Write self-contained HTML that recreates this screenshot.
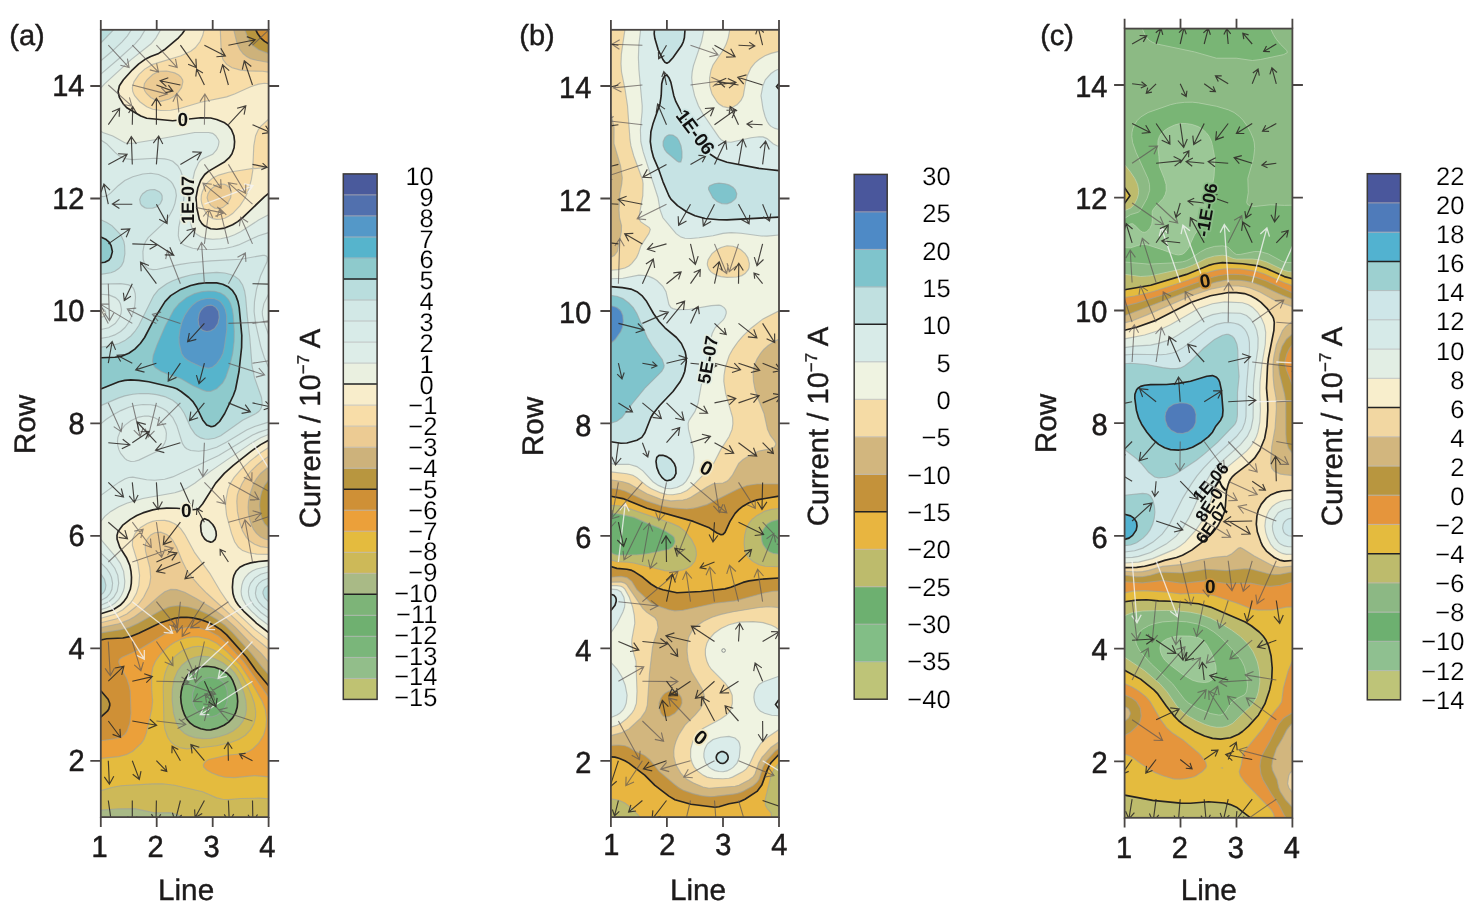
<!DOCTYPE html><html><head><meta charset="utf-8"><title>Current contour maps</title><style>
html,body{margin:0;padding:0;background:#fff}
svg{display:block;will-change:transform}
text{font-family:"Liberation Sans",sans-serif;fill:#1c1a1a;text-rendering:geometricPrecision}
.tk{font-size:30.5px;stroke:#1c1a1a;stroke-width:.55px}.ti{font-size:29.7px;stroke:#1c1a1a;stroke-width:.4px}.pl{font-size:29px;stroke:#1c1a1a;stroke-width:.45px}.cl{font-size:25.5px;fill:#000;stroke:#fff;stroke-width:.2px;paint-order:fill stroke}
.lb{font-weight:bold;fill:#111;paint-order:stroke fill;stroke-width:3.5px;stroke-linejoin:round}
</style></head><body>
<svg width="1484" height="917" viewBox="0 0 1484 917">
<rect width="1484" height="917" fill="#fff"/>
<g id="panel-a">
<clipPath id="cpa"><rect x="100.8" y="29.8" width="167.8" height="787.3"/></clipPath>
<g clip-path="url(#cpa)">
<rect x="99.8" y="28.8" width="169.8" height="789.3" fill="#BFC272"/>
<path d="M100.8,29.8 268.6,29.8 268.6,817.1 100.8,817.1Z" fill="#92BE8A" fill-rule="evenodd"/>
<path d="M100.8,29.8 268.6,29.8 268.6,817.1 100.8,817.1Z" fill="#7AB67A" fill-rule="evenodd"/>
<path d="M100.8,29.8 268.6,29.8 268.6,817.1 100.8,817.1Z" fill="#6FB070" fill-rule="evenodd"/>
<path d="M100.8,29.8 268.6,29.8 268.6,817.1 100.8,817.1ZM204.7,678.5 198.7,682.1 194.7,687.2 192.7,693.2 192.3,697.2 192.6,701.2 193.7,705.2 195.7,709.2 200.7,714.4 206.7,716.8 212.7,716.6 216.7,715.2 219.8,713.2 222.7,710.5 224.9,707.2 226.6,703.2 227.4,699.2 227.1,691.2 226,687.2 223.8,683.2 222,681.2 218.9,679.2 212.7,677.6 208.7,677.6Z" fill="#7DB478" fill-rule="evenodd"/>
<path d="M100.8,29.8 268.6,29.8 268.6,817.1 100.8,817.1ZM200.7,666.9 196.7,668.2 191.7,671.2 187.7,675.2 185.1,679.2 182.7,685.2 181.3,691.2 180.7,697.2 181.2,703.2 182.5,709.2 184.7,715.2 186.9,719.2 190.3,723.2 194.7,726.3 200.7,728.8 206.7,730 210.7,729.9 216.7,728.4 224,725.2 228.6,722.1 232.6,717.9 235.4,713.2 237.2,707.2 237.7,701.2 237.2,695.2 235.3,687.2 232.6,680.3 230.6,676.8 227,673.2 220.7,669.5 214.7,667.3 206.7,666.3Z" fill="#A9BA86" fill-rule="evenodd"/>
<path d="M100.8,29.8 268.6,29.8 268.6,817.1 182.4,817.1 176.7,814.5 170.7,812.7 154.7,812.8 134.8,808.7 118.8,808.8 100.8,810.1ZM194.7,657.2 188.7,659.7 181.9,665.2 177.5,671.2 174.2,679.2 172.3,689.2 172.1,699.2 173.6,713.2 176.5,723.2 180.1,729.2 184.4,733.2 188.7,735.6 194.7,737.6 202.7,738.6 210.7,738.4 218.7,736.8 226.7,734.2 232.7,731.2 238.6,726.7 242.9,721.2 245.5,715.2 246.4,709.2 245.9,701.2 244,693.2 241.1,685.2 237.4,677.2 234.6,672.9 230.6,668.6 222.7,662.8 214.7,658.7 208.7,656.8 200.7,656.1Z" fill="#CDB958" fill-rule="evenodd"/>
<path d="M100.8,29.8 268.6,29.8 268.6,798.8 258.6,798.2 240.6,798.5 228.6,799.6 222.7,799.3 216.7,797.9 202.7,791.7 174.7,785.3 162.7,783.8 152.7,783.9 120.8,785.8 112.8,787.2 100.8,790.6ZM192.7,646.9 184.7,649.6 180.7,651.8 176.3,655.2 172.4,659.2 169.5,663.2 167.3,667.2 165.1,673.2 163.9,679.2 163.2,687.2 163.9,721.2 164.9,729.2 167.7,737.2 170.7,741.7 174.7,745.2 180.7,747.9 186.7,748.8 196.7,748.3 216.7,745.7 230.6,742.5 238.6,739.5 245.4,735.2 250.6,729.6 254,723.2 255.5,717.2 255.7,711.2 254.3,703.2 251.6,695.2 247.1,685.2 241.8,675.2 236.6,667.9 230.6,661.9 220.7,654.1 212.7,649.4 206.7,647.3 198.7,646.3Z" fill="#E4BB3E" fill-rule="evenodd"/>
<path d="M100.8,29.8 268.6,29.8 268.6,776.9 254.6,775.6 234.6,777.6 224.7,777.1 218.7,775.6 212,773.1 206.7,770.1 203.8,767.1 203.4,765.1 204.2,763.1 206,761.1 208.7,759.5 226.6,755.3 242.6,753.7 248.6,751.5 252.6,749 258.6,743.2 263.5,735.2 265.9,727.2 266.6,719.2 265.2,709.2 262.1,701.2 252,683.2 240.4,665.2 226.7,651.4 216.7,643.3 208.7,639.2 198.7,636.9 192.7,636.9 186.7,637.7 180.7,639.5 174.7,642.3 170.2,645.3 164.7,649.9 159.8,655.2 155.5,661.2 152.9,667.2 151.5,675.2 151.7,689.2 152.6,701.2 151.8,709.2 146.4,733.2 144.1,739.2 141.5,743.2 132.8,751.2 126.8,754.5 118.8,756.6 100.8,758.4Z" fill="#EBA03A" fill-rule="evenodd"/>
<path d="M100.8,29.8 268.6,29.8 268.6,697.2 243.2,661.2 226.7,643.4 218.7,636.3 208.7,630.8 198.7,627.9 188.7,627.3 178.7,628.8 171,631.3 164.7,634.1 140.8,648.5 132.8,652.6 122,657.2 119.5,659.2 118.7,661.2 118.9,663.2 126.8,678.6 129,685.2 130.2,691.2 131,713.2 129.8,723.2 127,731.2 124.8,734.4 122.8,736.1 118.8,737.8 114.8,738.8 100.8,740.8Z" fill="#CF9036" fill-rule="evenodd"/>
<path d="M100.8,29.8 255.8,29.8 257.7,33.8 260.6,37.8 264.6,41.4 268.6,43.8 268.6,685.8 256.5,671.2 246.6,657.3 226.7,634.9 220.7,629.6 214.7,625.8 206.7,621.7 200.7,619.6 192.7,617.9 186.7,617.3 180.7,617.4 174.7,618.3 160.7,622.8 138.8,633.3 130.8,636.4 122.8,638 106.8,638.8 100.8,640ZM100.8,691.2 100.8,690.8 108.1,699.2 109.7,703.2 109.8,705.2 108.8,709 107.4,711.2 100.8,717.1Z" fill="#B8963F" fill-rule="evenodd"/>
<path d="M100.8,29.8 244.8,29.8 248.6,39.6 253.1,45.8 258.6,49.8 268.6,53.6 268.6,480 264.5,485.4 261.8,491.4 260.3,497.4 259.6,505.4 260.4,513.4 262.2,519.4 264.6,523.8 268.6,527.7 268.6,674.6 262.1,667.2 251.1,653.2 232.6,632.7 224.9,625.3 216.7,619.3 206.7,613.6 198.7,610.1 188.7,607 178.7,605.7 172.7,606.2 168.7,607.1 160.7,610.4 138.2,623.3 128.8,627.6 120.8,629.8 100.8,632.9Z" fill="#CDB27B" fill-rule="evenodd"/>
<path d="M100.8,29.8 233.8,29.8 237.1,43.8 240,49.8 243.2,53.8 246.6,56.6 250.6,58.7 256.6,60.3 268.6,62.5 268.6,466.7 260.6,473.5 256.6,478.5 253.6,483.4 250.2,493.4 248.5,501.4 248.1,507.4 248.5,513.4 249.6,519.4 251.6,525.4 253.6,529.4 256.5,533.4 260.6,536.9 264.6,539 268.6,540 268.6,661.9 261,653.2 248.6,641.2 235.5,627.3 222.7,615.9 212.7,608.5 196.7,598.7 184.7,592.3 176.7,589.6 170.7,589.4 164.7,591.8 158.7,596.4 142,611.3 134.8,616.5 128.8,619.9 118.8,623.7 100.8,627.6Z" fill="#ECCB93" fill-rule="evenodd"/>
<path d="M100.8,29.8 220.3,29.8 221.3,53.8 223.1,59.8 226.6,64.4 232.1,67.8 240.6,70.1 248.6,70.9 262.6,71.3 268.6,72.1 268.6,456.4 262.6,460.5 256.6,465.5 250.7,471.4 245.9,477.4 242.1,483.4 238.5,491.4 237.3,495.4 236.8,501.4 237.4,511.4 239.3,521.4 242.6,531.1 246.3,537.3 250,541.3 254.6,544.3 260.6,546.6 268.6,547.7 268.6,649 252.6,636 236.6,620.4 206.8,593.3 199,585.3 192,577.3 186.3,569.3 182.3,561.3 176.7,547.3 172.7,540.2 170.3,537.3 166.7,534.5 160.7,532.2 154.7,532.7 150.7,535 147.1,539.3 145.6,543.3 145.2,547.3 145.6,551.3 149.8,567.3 150.7,577.3 149.8,583.3 148.6,587.3 143.6,597.3 139.1,603.3 135.3,607.3 126.8,613.9 116.8,618.7 100.8,622.8ZM158.7,71.3 152.7,74.5 147,79.8 144.4,83.8 143.8,87.7 144.7,90.7 146.7,93.7 150.7,97.5 156.7,100.8 160.7,101.4 168.7,99.3 172.7,97.2 177.2,93.7 181.5,87.7 182.9,81.8 182.5,79.8 180.7,76.8 178.7,75 174.7,72.9 166.7,71ZM216.7,185 212.7,187.6 210.6,189.7 208,193.7 207.1,197.7 208.2,201.6 210.7,205.4 214.7,208.1 218.7,208.7 222.7,207.6 227.5,203.6 230.7,197.7 231.3,191.7 229.7,187.7 226.7,185.2 224.7,184.4 220.7,184Z" fill="#F8DDA8" fill-rule="evenodd"/>
<path d="M100.8,29.8 204.1,29.8 202.6,35.8 199.9,41.8 196.7,46.2 192.7,49.9 186.7,53.5 181.1,55.8 156.7,62.9 150.7,65.3 146.6,67.8 141.6,71.8 135,79.8 133.1,83.8 132.3,87.7 132.8,91.7 134.6,95.7 137.7,99.7 142.3,103.7 146.7,106.7 152.7,109.2 158.7,110.3 164.7,110.6 176.7,109.2 200.7,102.3 226.7,96.9 256.6,84.7 262.6,83.4 268.6,83.7 268.6,119.2 260.6,126.3 258.2,129.7 255.6,135.7 253.8,145.7 252.8,167.7 254.6,168.6 268.6,167.2 268.6,447.6 260.6,452.7 249.7,461.4 241.1,469.4 234.1,477.4 230.3,483.4 227.9,489.4 226,499.4 225.5,505.4 226.6,515.4 231.5,533.4 234.6,541.8 238.4,547.3 242.6,550.6 248.6,552.8 256.6,554.1 268.6,554.4 268.6,640.1 254.6,629.4 235.5,611.3 230,605.3 220.4,591.3 209.8,573.3 194.7,552.7 184.7,534.3 180.7,528.6 177.3,525.4 174.2,523.4 169.3,521.4 164.7,520.4 156.7,520.5 152.5,521.4 147.1,523.4 140.6,527.4 135.1,533.4 132.6,539.3 132.4,545.3 137.9,563.3 139.6,575.3 138.8,585.3 136.4,593.3 133.1,599.3 130.1,603.3 122.8,609.8 114.8,614.2 100.8,618.2ZM244.6,169.7 228.6,172.3 218.7,175.1 212.7,177.9 206.7,183.3 204,187.7 202.3,191.7 201.3,195.7 201.1,199.6 201.8,203.6 204,209.6 206.3,213.6 208.7,216.3 212.7,218.6 216.7,219.4 220.7,219.2 224.7,218.2 228.6,216.3 232.6,213.6 240.1,205.6 245.2,197.7 248.6,189.7 251.3,179.7 252.9,169.7 252.6,168.4Z" fill="#F8EDCB" fill-rule="evenodd"/>
<path d="M100.8,29.8 184.9,29.8 182.2,33.8 178.5,37.8 164.3,49.8 158.7,53.4 150.7,56.6 144.7,59.6 138.8,63.8 134.8,67.4 125,77.8 120.6,83.8 118.6,87.7 118.2,93.7 119.5,97.7 121.8,101.7 124.7,105.7 126.8,107.7 140.8,116 144.7,117.7 150.7,119 170.7,120.7 178.7,120.3 200.7,117.7 210.7,118 216.7,119.5 224.7,122.8 228.4,125.7 231.5,129.7 233.9,135.7 234.6,141.7 234.1,147.7 232,153.7 229.2,157.7 224.8,161.7 208.7,171.1 205.5,173.7 201,179.7 198.5,185.7 196.3,195.7 196.1,203.6 198.7,217.6 200.4,221.6 202.7,224.5 204.7,226.1 208.7,228.2 214.7,229.3 222.7,228.6 230.6,225.9 234.8,223.6 240.6,219.4 264.6,196.6 268.6,193.4 268.6,440.2 260.6,444.6 251,451.4 233.3,465.4 224.3,473.4 215.5,483.4 202.7,503.8 198.7,508.5 196.7,509.3 192.7,509.7 176.7,508.3 166.7,508.1 158.7,508.8 152.7,509.9 142.8,512.9 136.8,515.5 130.3,519.4 122.5,525.4 118.1,531.4 117,535.4 117.1,539.3 119.8,547.3 126.8,558.3 129.8,565.3 131,571.3 131.5,577.3 131.3,583.3 130.3,589.3 126.9,597.3 124,601.3 120.1,605.3 112.8,610 100.8,613.8ZM202.8,519.4 204.7,518.7 208.7,520.5 212.7,524.5 214.7,527.7 216,531.4 216.3,535.4 215.2,539.3 212.7,541.7 210.7,542.1 206.7,540.7 204.7,539 202.3,535.4 201.1,531.4 200.6,525.4 201.5,521.4ZM260.4,561.3 268.6,560.6 268.6,632.5 256.6,623.3 240,607.3 236.9,603.3 234.8,599.3 232.6,591.3 232.6,583.3 233.4,577.3 234.9,573.3 237.6,569.3 240.6,566.8 246.6,564 252.6,562.5Z" fill="#EAF0E0" fill-rule="evenodd"/>
<path d="M100.8,29.8 158.7,29.8 160.6,29.8 156,37.8 151.1,43.8 130.8,59.9 104.6,83.8 100.8,88ZM100.8,131.7 100.8,131.3 102.8,132.5 112.8,136 124.8,142.7 128.8,143.4 134.8,143 154.7,139.7 194.7,132.5 208.7,132.5 212.7,133.4 215.7,135.7 218.4,139.7 219,141.7 218.4,145.7 216.7,149.7 212.7,154.3 202.7,158.8 200.7,160.2 198.7,162.5 194.7,171.3 192.4,181.7 190.2,201.6 190.3,221.6 191.8,227.6 194,231.6 196.7,234.3 200.7,236.8 206.7,238.6 212.7,239.2 220.7,238.8 228.6,237 234.6,234.7 240.6,231.7 258.6,220.1 268.6,214.8 268.6,434.5 260.6,437.8 251,443.4 210.3,471.4 194.7,483.3 186.7,488.3 180.7,490.9 174.7,492.8 142.8,498.5 126.8,503.3 118.8,506.8 110.8,511.4 104.8,516.3 100.8,521.5 100.8,316.9 102.8,316.9 104.8,315.8 105.8,313.5 105.6,311.5 104.8,310.2 102.8,308.9 100.8,308.7ZM100.8,541.3 100.8,539.4 116.1,557.3 120.3,563.3 123.6,571.3 124.8,581.3 124.3,587.3 123.2,591.3 121.4,595.3 118.7,599.3 114.8,603.2 111.8,605.3 106.8,607.7 100.8,609.6ZM262.6,567.3 268.6,566.3 268.6,625.2 258.6,617.7 248,607.3 243.7,601.3 242,597.3 241.2,593.3 241.2,589.3 242.3,583.3 244,579.3 246.6,575.5 252.6,570.8 256.6,569Z" fill="#DDEDE8" fill-rule="evenodd"/>
<path d="M100.8,29.8 102.8,29.8 145.2,29.8 140.3,37.8 135.1,43.8 118.8,58.7 100.8,74.1ZM100.8,141.7 100.8,140.1 103.9,141.7 108.7,145.7 116.8,154.1 120.8,156.9 124.8,158.6 132.8,159.6 154.7,158.3 164.7,158.9 168.7,159.7 172.7,161.3 177.8,165.7 180.7,170.7 182.7,176.8 184,183.7 184.5,191.7 183.1,205.6 178.7,227.6 178.3,235.6 179.2,239.6 180.3,241.6 182,243.6 184.9,245.6 192.7,248.3 200.7,249.4 212.7,249.5 224.7,248.5 232.6,246.8 238.6,244.9 258.6,235.7 268.6,232.6 268.6,293.9 263.9,303.6 262.3,311.5 262.5,315.5 263.9,321.5 268.6,334.9 268.6,429 258.6,432.4 252.6,435.1 218.7,455.6 172.7,476.9 164.7,479.3 154.7,480.2 146.7,479.7 132.8,477.2 128.8,477.5 124.8,478.9 118.8,482.4 100.8,495.4 100.8,329.5 108.8,327.7 115.2,323.5 119.5,317.5 121,313.5 121.5,309.6 120.4,303.6 118.8,300.7 115.4,297.6 108.8,294.9 100.8,294.3ZM138.8,417.1 130.8,420.7 124.7,425.4 120.2,431.4 117.9,437.4 117.5,441.4 117.8,445.4 118.8,449.4 120.7,453.4 124.8,458.4 126.8,460 130.8,461.5 134.8,461.3 138.8,460.1 156.7,451.6 159.8,449.4 162.7,446.3 164.5,443.4 166,439.4 166.4,433.4 165.6,429.4 162.7,423.9 158.7,419.9 154.7,417.7 148.7,416.1 144.7,416ZM100.8,553.3 100.8,552.8 108.8,560.3 114.3,567.3 117.8,575.3 118.7,583.3 117.2,591.3 113.7,597.3 108.8,601.7 100.8,605.2ZM263.2,573.3 268.6,572 268.6,618 260.6,612.2 253.8,605.3 250,599.3 248.5,593.3 249,587.3 251.7,581.3 256.6,576.5Z" fill="#D8EBE8" fill-rule="evenodd"/>
<path d="M100.8,29.8 131.3,29.8 127.4,35.8 122.1,41.8 111.5,51.8 100.8,60.7ZM145,173.7 150.7,173.3 156.7,174 162,175.7 166.7,178.2 170.7,181.4 172.7,183.9 174.8,187.7 176.4,193.7 176.2,197.7 174.7,204.2 172.7,209.6 168.7,217 162.7,224.3 148.7,237 144.7,243.6 143.1,249.6 142.9,257.6 144.3,263.6 146.9,267.6 150.7,269.4 156.7,269.5 178.7,264.6 192.7,262.5 210.7,260.9 240.6,259.2 262.6,255.4 265.3,255.6 266.6,256.3 267.4,257.6 267.1,261.6 260.6,275.8 257.4,285.6 255,297.6 254.1,309.6 255.2,321.5 260,343.5 263.5,355.5 268.6,367.4 268.6,422.1 248.6,428.9 242.6,432 222.7,444.4 214.7,447.9 206.7,450.2 198.7,451.2 192.7,450.9 188.7,449.8 185.1,447.4 182.4,443.4 176.7,425.4 172.7,417.5 168.7,412.7 164.7,409.5 160.7,407.4 154.7,405.4 148.7,404.5 142.8,404.5 135.6,405.5 128.8,407.3 120.8,410.6 112.8,414.9 106,419.5 100.8,423.9 100.8,338.4 108.8,337 114.8,334.9 120.6,331.5 125,327.5 129.3,321.5 132.8,313.5 134.8,305.6 135.5,297.6 135.2,293.6 134,289.6 132.8,287.5 128.8,284.9 120.8,283.7 100.8,284.1 100.8,195.9 102.8,196.7 107.3,195.7 120.6,183.7 128.8,178.4 136.8,175.4ZM100.8,563.3 100.8,562.9 104.8,566.7 108.8,571.7 111.5,577.3 112.6,583.3 111.9,589.3 110.2,593.3 106.7,597.3 100.8,600.5ZM264.6,579.3 268.6,578 268.6,610.6 262.6,606.2 258.6,601.8 256.2,597.3 255.4,593.3 255.7,589.3 257.4,585.3 260.6,581.8Z" fill="#D2E8E6" fill-rule="evenodd"/>
<path d="M100.8,29.8 113.5,29.8 100.8,43 100.8,41.8ZM150,189.7 154.7,189.6 159.2,191.7 161.1,193.7 162.1,195.7 162.2,199.6 160.4,203.6 156.7,206.7 152.7,208.1 146.7,208.2 144.7,207.6 141.7,205.6 140.4,203.6 139.7,199.6 140.8,196.4 142.7,193.7 146.7,190.8ZM100.8,221.6 100.8,219.8 106.8,222.4 110.8,224.8 114.8,228.3 120.8,234.9 123.9,241.6 124.6,245.6 124.9,253.6 123.6,261.6 121.6,265.6 118.8,268.6 114.8,271.2 110.8,272.8 100.8,274.4ZM198.7,273.6 216.7,272.4 222.7,272.8 228.6,273.9 232.6,275.2 236.8,277.6 240.6,281.4 242.6,284.9 244.6,291 245.7,297.6 252.4,367.5 254.6,377.9 260.9,395.5 262.1,401.5 261.9,405.5 260.6,409.1 258.7,411.5 256.6,413 242.6,420.3 221.1,435.4 214.7,438.2 208.7,439.2 204.7,439 200.7,437.9 196.7,435.5 194.7,433.6 190.7,427.6 184.3,413.5 180.5,407.5 176.8,403.5 172.7,400.3 164.7,396.6 156.7,394.6 148.7,393.6 140.8,393.5 132.8,394.2 124.8,395.9 118.8,397.9 100.8,405.6 100.8,347.1 110.8,345.8 118.8,343.5 124.8,340.6 131.3,335.5 134.8,331.5 138.8,325.5 152.7,297.1 156.7,291.6 160.9,287.6 166.9,283.6 176.7,279.1 186.7,276ZM100.8,575.3 100.8,573.9 104.5,579.3 105.9,585.3 105.3,589.3 104.4,591.3 102.9,593.3 100.8,594.8ZM268.5,585.3 268.6,585.3 268.6,601.9 264.6,598 262.9,593.3 263,591.3 264.6,588Z" fill="#B9DDDD" fill-rule="evenodd"/>
<path d="M100.8,237.6 100.8,237 104.8,238.8 108.8,241.8 111.1,245.6 112.4,251.6 110.8,257.6 108.8,260.2 104.8,262.2 100.8,262.8ZM198.8,283.6 206.7,282.8 216.7,282.9 222.7,284.2 228.6,287.1 232.6,290.7 235.8,295.6 238,301.6 239.5,309.6 241.5,329.5 241.9,341.5 238.7,373.5 235.9,387.5 234.1,393.5 225.9,411.5 221,419.5 217.9,423.5 215.3,425.4 212.7,426.5 208.7,426.1 206.7,424.9 202.7,419.9 196.8,407.5 192.7,401.3 188.8,397.5 181.1,391.5 176.7,388.8 172.7,387.4 148.7,381.8 138.8,380.4 130.8,379.9 124.8,380.4 118.8,381.8 100.8,389 100.8,357.7 114.8,357.3 120.8,356.4 126.8,354.2 132.8,350.7 138.8,345.3 143.3,339.5 148,331.5 155,317.5 163.6,303.6 168.4,297.6 173.5,293.6 180.7,289.4 190.7,285.5Z" fill="#8ECACC" fill-rule="evenodd"/>
<path d="M202.1,291.6 208.7,291 214.7,291.3 220.7,293 224.7,295.4 228.5,299.6 230.6,303.6 232.4,309.6 233.3,315.5 234.3,331.5 234.1,341.5 232.7,353.5 229.8,365.5 225.7,377.5 222.7,382.9 216.7,388.7 210.7,391.3 206.7,391.3 202.7,390.1 192.7,385.4 180.7,378.5 168.7,374.6 161.2,371.5 155.1,367.5 153.6,365.5 152.5,361.5 153.2,355.5 156.8,345.5 165.4,325.5 174,309.6 179,303.6 186.6,297.6 194.6,293.6Z" fill="#56B4CC" fill-rule="evenodd"/>
<path d="M201.5,299.6 206.7,298.5 210.7,298.3 214.7,298.8 218.7,300.5 220.7,302 223.4,305.6 225.3,309.6 226.6,315.5 226.8,329.5 224.3,347.5 222.9,353.5 220.7,358.1 216.7,363.6 212.7,367 208.7,368.2 202.7,367.4 190.7,362 186.6,359.5 184.3,357.5 181.6,353.5 179.2,343.5 179,337.5 180,329.5 182.1,321.5 184.7,315.5 188.5,309.6 192,305.6 196.7,301.8Z" fill="#5498C8" fill-rule="evenodd"/>
<path d="M207.2,305.6 210.7,305.1 212.7,305.5 216,307.6 218.6,311.5 219.2,317.5 217.9,323.5 214.7,328.4 210.7,330.8 206.7,331.5 202.7,330.4 200.7,328.6 198.7,324.7 198.2,319.5 199.3,313.5 200.7,310.7 203.4,307.6Z" fill="#5170AE" fill-rule="evenodd"/>
<path d="M204.7,678.5 198.7,682.1 194.7,687.2 192.7,693.2 192.3,697.2 192.6,701.2 193.7,705.2 195.7,709.2 200.7,714.4 206.7,716.8 212.7,716.6 216.7,715.2 219.8,713.2 222.7,710.5 224.9,707.2 226.6,703.2 227.4,699.2 227.1,691.2 226,687.2 223.8,683.2 222,681.2 218.9,679.2 212.7,677.6 208.7,677.6ZM194.7,657.2 188.7,659.7 181.9,665.2 177.5,671.2 174.2,679.2 172.3,689.2 172.1,699.2 173.6,713.2 176.5,723.2 180.1,729.2 184.4,733.2 188.7,735.6 194.7,737.6 202.7,738.6 210.7,738.4 218.7,736.8 226.7,734.2 232.7,731.2 238.6,726.7 242.9,721.2 245.5,715.2 246.4,709.2 245.9,701.2 244,693.2 241.1,685.2 237.4,677.2 234.6,672.9 230.6,668.6 222.7,662.8 214.7,658.7 208.7,656.8 200.7,656.1ZM182.4,817.1 176.7,814.5 170.7,812.7 154.7,812.8 134.8,808.7 118.8,808.8 100.8,810.1M192.7,646.9 184.7,649.6 180.7,651.8 176.3,655.2 172.4,659.2 169.5,663.2 167.3,667.2 165.1,673.2 163.9,679.2 163.2,687.2 163.9,721.2 164.9,729.2 167.7,737.2 170.7,741.7 174.7,745.2 180.7,747.9 186.7,748.8 196.7,748.3 216.7,745.7 230.6,742.5 238.6,739.5 245.4,735.2 250.6,729.6 254,723.2 255.5,717.2 255.7,711.2 254.3,703.2 251.6,695.2 247.1,685.2 241.8,675.2 236.6,667.9 230.6,661.9 220.7,654.1 212.7,649.4 206.7,647.3 198.7,646.3ZM268.6,798.8 258.6,798.2 240.6,798.5 228.6,799.6 222.7,799.3 216.7,797.9 202.7,791.7 174.7,785.3 162.7,783.8 152.7,783.9 120.8,785.8 112.8,787.2 100.8,790.6M268.6,776.9 254.6,775.6 234.6,777.6 224.7,777.1 218.7,775.6 212,773.1 206.7,770.1 203.8,767.1 203.4,765.1 204.2,763.1 206,761.1 208.7,759.5 226.6,755.3 242.6,753.7 248.6,751.5 252.6,749 258.6,743.2 263.5,735.2 265.9,727.2 266.6,719.2 265.2,709.2 262.1,701.2 252,683.2 240.4,665.2 226.7,651.4 216.7,643.3 208.7,639.2 198.7,636.9 192.7,636.9 186.7,637.7 180.7,639.5 174.7,642.3 170.2,645.3 164.7,649.9 159.8,655.2 155.5,661.2 152.9,667.2 151.5,675.2 151.7,689.2 152.6,701.2 151.8,709.2 146.4,733.2 144.1,739.2 141.5,743.2 132.8,751.2 126.8,754.5 118.8,756.6 100.8,758.4M268.6,697.2 243.2,661.2 226.7,643.4 218.7,636.3 208.7,630.8 198.7,627.9 188.7,627.3 178.7,628.8 171,631.3 164.7,634.1 140.8,648.5 132.8,652.6 122,657.2 119.5,659.2 118.7,661.2 118.9,663.2 126.8,678.6 129,685.2 130.2,691.2 131,713.2 129.8,723.2 127,731.2 124.8,734.4 122.8,736.1 118.8,737.8 114.8,738.8 100.8,740.8M244.8,29.8 248.6,39.6 253.1,45.8 258.6,49.8 268.6,53.6M268.6,480 264.5,485.4 261.8,491.4 260.3,497.4 259.6,505.4 260.4,513.4 262.2,519.4 264.6,523.8 268.6,527.7M268.6,674.6 262.1,667.2 251.1,653.2 232.6,632.7 224.9,625.3 216.7,619.3 206.7,613.6 198.7,610.1 188.7,607 178.7,605.7 172.7,606.2 168.7,607.1 160.7,610.4 138.2,623.3 128.8,627.6 120.8,629.8 100.8,632.9M233.8,29.8 237.1,43.8 240,49.8 243.2,53.8 246.6,56.6 250.6,58.7 256.6,60.3 268.6,62.5M268.6,466.7 260.6,473.5 256.6,478.5 253.6,483.4 250.2,493.4 248.5,501.4 248.1,507.4 248.5,513.4 249.6,519.4 251.6,525.4 253.6,529.4 256.5,533.4 260.6,536.9 264.6,539 268.6,540M268.6,661.9 261,653.2 248.6,641.2 235.5,627.3 222.7,615.9 212.7,608.5 196.7,598.7 184.7,592.3 176.7,589.6 170.7,589.4 164.7,591.8 158.7,596.4 142,611.3 134.8,616.5 128.8,619.9 118.8,623.7 100.8,627.6M220.3,29.8 221.3,53.8 223.1,59.8 226.6,64.4 232.1,67.8 240.6,70.1 248.6,70.9 262.6,71.3 268.6,72.1M158.7,71.3 152.7,74.5 147,79.8 144.4,83.8 143.8,87.7 144.7,90.7 146.7,93.7 150.7,97.5 156.7,100.8 160.7,101.4 168.7,99.3 172.7,97.2 177.2,93.7 181.5,87.7 182.9,81.8 182.5,79.8 180.7,76.8 178.7,75 174.7,72.9 166.7,71ZM216.7,185 212.7,187.6 210.6,189.7 208,193.7 207.1,197.7 208.2,201.6 210.7,205.4 214.7,208.1 218.7,208.7 222.7,207.6 227.5,203.6 230.7,197.7 231.3,191.7 229.7,187.7 226.7,185.2 224.7,184.4 220.7,184ZM268.6,456.4 262.6,460.5 256.6,465.5 250.7,471.4 245.9,477.4 242.1,483.4 238.5,491.4 237.3,495.4 236.8,501.4 237.4,511.4 239.3,521.4 242.6,531.1 246.3,537.3 250,541.3 254.6,544.3 260.6,546.6 268.6,547.7M268.6,649 252.6,636 236.6,620.4 206.8,593.3 199,585.3 192,577.3 186.3,569.3 182.3,561.3 176.7,547.3 172.7,540.2 170.3,537.3 166.7,534.5 160.7,532.2 154.7,532.7 150.7,535 147.1,539.3 145.6,543.3 145.2,547.3 145.6,551.3 149.8,567.3 150.7,577.3 149.8,583.3 148.6,587.3 143.6,597.3 139.1,603.3 135.3,607.3 126.8,613.9 116.8,618.7 100.8,622.8M204.1,29.8 202.6,35.8 199.9,41.8 195.2,47.8 190.7,51.3 181.1,55.8 152.7,64.4 144.7,69.1 138.8,74.7 133.9,81.8 132.3,87.7 132.8,91.7 134.6,95.7 139.8,101.7 146.7,106.7 152.7,109.2 160.7,110.5 170.7,110.2 180.7,108.2 200.7,102.3 226.7,96.9 234.6,94 250.6,86.8 258.6,84.1 264.6,83.3 268.6,83.7M268.6,119.2 260.6,126.3 258.2,129.7 255.6,135.7 253.8,145.7 252.8,167.7 254.6,168.6 268.6,167.2M244.6,169.7 228.6,172.3 218.7,175.1 212.7,177.9 206.7,183.3 204,187.7 202.3,191.7 201.3,195.7 201.1,199.6 201.8,203.6 204,209.6 206.3,213.6 208.7,216.3 212.7,218.6 216.7,219.4 220.7,219.2 224.7,218.2 228.6,216.3 232.6,213.6 240.1,205.6 245.2,197.7 248.6,189.7 251.3,179.7 252.9,169.7 252.6,168.4ZM268.6,447.6 260.6,452.7 249.7,461.4 241.1,469.4 234.1,477.4 230.3,483.4 227.9,489.4 226,499.4 225.5,505.4 226.6,515.4 231.5,533.4 234.6,541.8 238.4,547.3 242.6,550.6 248.6,552.8 256.6,554.1 268.6,554.4M268.6,640.1 254.6,629.4 235.5,611.3 230,605.3 220.4,591.3 209.8,573.3 194.7,552.7 184.7,534.3 180.7,528.6 177.3,525.4 174.2,523.4 169.3,521.4 164.7,520.4 156.7,520.5 152.5,521.4 147.1,523.4 140.6,527.4 135.1,533.4 132.6,539.3 132.4,545.3 137.9,563.3 139.6,575.3 138.8,585.3 136.4,593.3 133.1,599.3 130.1,603.3 122.8,609.8 114.8,614.2 100.8,618.2M160.6,29.8 156,37.8 151.1,43.8 130.8,59.9 104.6,83.8 100.8,88M100.8,131.3 102.8,132.5 112.8,136 124.8,142.7 128.8,143.4 134.8,143 154.7,139.7 194.7,132.5 208.7,132.5 212.7,133.4 215.7,135.7 218.4,139.7 219,141.7 218.4,145.7 216.7,149.7 212.7,154.3 202.7,158.8 200.7,160.2 198.7,162.5 194.7,171.3 192.4,181.7 190.2,201.6 190.3,221.6 191.8,227.6 194,231.6 196.7,234.3 200.7,236.8 206.7,238.6 212.7,239.2 220.7,238.8 228.6,237 234.6,234.7 240.6,231.7 258.6,220.1 268.6,214.8M100.8,316.9 102.8,316.9 104.8,315.8 105.8,313.5 105.6,311.5 104.8,310.2 102.8,308.9 100.8,308.7M268.6,434.5 260.6,437.8 251,443.4 210.3,471.4 194.7,483.3 186.7,488.3 180.7,490.9 174.7,492.8 142.8,498.5 126.8,503.3 118.8,506.8 110.8,511.4 104.8,516.3 100.8,521.5M100.8,539.4 116.1,557.3 120.3,563.3 123.6,571.3 124.8,581.3 124.3,587.3 123.2,591.3 121.4,595.3 118.7,599.3 114.8,603.2 111.8,605.3 106.8,607.7 100.8,609.6M268.6,625.2 258.6,617.7 251.7,611.3 246.3,605.3 242.8,599.3 241.5,595.3 241.1,591.3 241.8,585.3 243,581.3 245.2,577.3 248.6,573.5 252.6,570.8 256.6,569 268.6,566.3M145.2,29.8 140.3,37.8 135.1,43.8 118.8,58.7 100.8,74.1M100.8,140.1 106.6,143.7 114.8,152.2 118.8,155.6 124.8,158.6 132.8,159.6 154.7,158.3 164.7,158.9 168.7,159.7 172.7,161.3 177.8,165.7 180.7,170.7 182.7,176.8 184,183.7 184.5,191.7 183.1,205.6 178.7,227.6 178.3,235.6 179.2,239.6 180.3,241.6 182,243.6 184.9,245.6 192.7,248.3 200.7,249.4 212.7,249.5 224.7,248.5 232.6,246.8 238.6,244.9 258.6,235.7 268.6,232.6M268.6,293.9 263.9,303.6 262.3,311.5 262.5,315.5 263.9,321.5 268.6,334.9M100.8,329.5 108.8,327.7 115.2,323.5 119.5,317.5 121,313.5 121.5,309.6 120.4,303.6 118.8,300.7 115.4,297.6 108.8,294.9 100.8,294.3M138.8,417.1 130.8,420.7 124.7,425.4 120.2,431.4 117.9,437.4 117.5,441.4 117.8,445.4 118.8,449.4 120.7,453.4 124.8,458.4 126.8,460 130.8,461.5 134.8,461.3 138.8,460.1 156.7,451.6 159.8,449.4 162.7,446.3 164.5,443.4 166,439.4 166.4,433.4 165.6,429.4 162.7,423.9 158.7,419.9 154.7,417.7 148.7,416.1 144.7,416ZM268.6,429 258.6,432.4 252.6,435.1 218.7,455.6 172.7,476.9 164.7,479.3 154.7,480.2 146.7,479.7 132.8,477.2 128.8,477.5 124.8,478.9 118.8,482.4 100.8,495.4M100.8,552.8 109.7,561.3 114.8,568.2 117.8,575.3 118.7,583.3 117.2,591.3 113.7,597.3 108.8,601.7 100.8,605.2M268.6,618 260.6,612.2 253.8,605.3 250,599.3 248.8,595.3 248.4,591.3 249,587.3 250.5,583.3 254.6,578.1 260.6,574.3 268.6,572M131.3,29.8 127.4,35.8 122.1,41.8 111.5,51.8 100.8,60.7M100.8,195.9 102.8,196.7 106.8,195.9 110.8,192.9 118.2,185.7 124.8,180.6 132.8,176.7 142.8,174 150.7,173.3 158.7,174.5 166.7,178.2 170.7,181.4 172.7,183.9 175.5,189.7 176.4,195.7 174.9,203.6 172.7,209.6 168.7,217 164.7,222.2 148.2,237.6 145.6,241.6 144,245.6 142.9,251.6 143.2,259.6 145.3,265.6 146.7,267.4 148.7,268.7 152.7,269.6 156.7,269.5 178.7,264.6 190.7,262.8 210.7,260.9 240.6,259.2 262.6,255.4 264.6,255.4 266.6,256.3 267.4,257.6 267.1,261.6 260.6,275.8 256.6,289 254.5,301.6 254.1,311.5 255.6,323.5 260.6,345.8 264.3,357.5 268.6,367.4M100.8,338.4 108.8,337 114.8,334.9 120.6,331.5 125,327.5 129.3,321.5 132.8,313.5 134.8,305.6 135.5,297.6 135.2,293.6 134,289.6 132.8,287.5 128.8,284.9 120.8,283.7 100.8,284.1M268.6,422.1 254.6,426.5 246.6,429.9 226.7,442.1 216.7,447.2 206.7,450.2 198.7,451.2 190.7,450.5 186.7,448.7 184.7,447 182.4,443.4 176.7,425.4 172.7,417.5 166.7,411 162.7,408.4 156.7,405.9 150.7,404.7 142.8,404.5 135.6,405.5 128.8,407.3 120.8,410.6 112.8,414.9 106,419.5 100.8,423.9M100.8,562.9 106.8,568.9 109.7,573.3 111.5,577.3 112.6,583.3 111.9,589.3 110.2,593.3 106.7,597.3 100.8,600.5M268.6,610.6 262.6,606.2 258.6,601.8 256.2,597.3 255.4,593.3 256.4,587.3 258.9,583.3 262.6,580.4 268.6,578M113.5,29.8 100.8,43M150,189.7 154.7,189.6 159.2,191.7 161.1,193.7 162.1,195.7 162.2,199.6 160.4,203.6 156.7,206.7 152.7,208.1 146.7,208.2 144.7,207.6 141.7,205.6 140.4,203.6 139.7,199.6 140.8,196.4 142.7,193.7 146.7,190.8ZM100.8,219.8 106.8,222.4 111.9,225.6 120.8,234.9 123.9,241.6 124.6,245.6 124.9,253.6 123.6,261.6 121.6,265.6 118.8,268.6 114.8,271.2 110.8,272.8 100.8,274.4M100.8,347.1 110.8,345.8 118.8,343.5 124.8,340.6 130.8,336 134.8,331.5 138.8,325.5 153.7,295.6 158.7,289.5 166.7,283.7 172.7,280.7 181.2,277.6 190.7,275 198.7,273.6 216.7,272.4 224.7,273 230.6,274.5 234.6,276.2 239.1,279.6 242.6,284.9 244.6,291 245.7,297.6 247.2,315.5 249.8,337.5 252,365.5 254.6,377.9 261.5,397.5 262.2,403.5 261.4,407.5 260.4,409.5 258.7,411.5 256,413.5 242.6,420.3 220.7,435.7 214.7,438.2 208.7,439.2 204.7,439 200.7,437.9 196.7,435.5 194.7,433.6 190.7,427.6 184.3,413.5 180.5,407.5 176.8,403.5 172.7,400.3 164.7,396.6 156.7,394.6 148.7,393.6 140.8,393.5 132.8,394.2 124.8,395.9 118.8,397.9 100.8,405.6M100.8,573.9 104.5,579.3 105.9,585.3 105.3,589.3 104.4,591.3 102.9,593.3 100.8,594.8M268.6,601.9 264.6,598 262.9,593.3 263,591.3 264.6,588 268.6,585.3M202.1,291.6 208.7,291 214.7,291.3 220.7,293 224.7,295.4 228.5,299.6 230.6,303.6 232.4,309.6 233.3,315.5 234.3,331.5 234.1,341.5 232.7,353.5 229.8,365.5 225.7,377.5 222.7,382.9 216.7,388.7 210.7,391.3 206.7,391.3 202.7,390.1 192.7,385.4 180.7,378.5 168.7,374.6 161.2,371.5 155.1,367.5 153.6,365.5 152.5,361.5 153.2,355.5 156.8,345.5 165.4,325.5 174,309.6 179,303.6 186.6,297.6 194.6,293.6ZM201.5,299.6 206.7,298.5 210.7,298.3 214.7,298.8 218.7,300.5 220.7,302 223.4,305.6 225.3,309.6 226.6,315.5 226.8,329.5 224.3,347.5 222.9,353.5 220.7,358.1 216.7,363.6 212.7,367 208.7,368.2 202.7,367.4 190.7,362 186.6,359.5 184.3,357.5 181.6,353.5 179.2,343.5 179,337.5 180,329.5 182.1,321.5 184.7,315.5 188.5,309.6 192,305.6 196.7,301.8ZM207.2,305.6 210.7,305.1 212.7,305.5 216,307.6 218.6,311.5 219.2,317.5 217.9,323.5 214.7,328.4 210.7,330.8 206.7,331.5 202.7,330.4 200.7,328.6 198.7,324.7 198.2,319.5 199.3,313.5 200.7,310.7 203.4,307.6Z" fill="none" stroke="#9aa2a2" stroke-opacity=".62" stroke-width="1.15"/>
<path d="M200.7,666.9 196.7,668.2 191.7,671.2 187.7,675.2 185.1,679.2 182.7,685.2 181.3,691.2 180.7,697.2 181.2,703.2 182.5,709.2 184.7,715.2 186.9,719.2 190.3,723.2 194.7,726.3 200.7,728.8 206.7,730 210.7,729.9 216.7,728.4 224,725.2 228.6,722.1 232.6,717.9 235.4,713.2 237.2,707.2 237.7,701.2 237.2,695.2 235.3,687.2 232.6,680.3 230.6,676.8 227,673.2 220.7,669.5 214.7,667.3 206.7,666.3ZM255.8,29.8 257.7,33.8 260.6,37.8 264.6,41.4 268.6,43.8M268.6,685.8 256.5,671.2 246.6,657.3 226.7,634.9 220.7,629.6 214.7,625.8 206.7,621.7 200.7,619.6 192.7,617.9 186.7,617.3 180.7,617.4 174.7,618.3 160.7,622.8 138.8,633.3 130.8,636.4 122.8,638 106.8,638.8 100.8,640M100.8,690.8 108.1,699.2 109.7,703.2 109.8,705.2 108.8,709 107.4,711.2 100.8,717.1M184.9,29.8 182.2,33.8 178.5,37.8 164.3,49.8 158.7,53.4 150.7,56.6 144.7,59.6 138.8,63.8 132.4,69.8 123.4,79.8 119.4,85.8 118.1,91.7 119.5,97.7 123.1,103.7 126.8,107.7 140.8,116 146.7,118.3 172.7,120.7 200.7,117.7 210.7,118 216.7,119.5 224.7,122.8 228.4,125.7 231.5,129.7 233.9,135.7 234.6,141.7 234.1,147.7 232,153.7 229.2,157.7 224.8,161.7 208.7,171.1 204.7,174.5 200.7,180.3 197.9,187.7 196,197.7 196.7,207.6 199.4,219.6 201.9,223.6 204.7,226.1 210.7,228.7 216.7,229.3 224.7,228.1 232.6,224.8 237.7,221.6 242.7,217.6 264.6,196.6 268.6,193.4M268.6,440.2 260.6,444.6 251,451.4 233.3,465.4 224.3,473.4 215.5,483.4 202.7,503.8 198.7,508.5 196.7,509.3 192.7,509.7 176.7,508.3 166.7,508.1 158.7,508.8 152.7,509.9 142.8,512.9 136.8,515.5 130.3,519.4 122.5,525.4 118.1,531.4 117,535.4 117.1,539.3 119.8,547.3 126.8,558.3 129.8,565.3 131,571.3 131.5,577.3 131.3,583.3 130.3,589.3 126.9,597.3 124,601.3 120.1,605.3 112.8,610 100.8,613.8M202.8,519.4 204.7,518.7 208.7,520.5 212.7,524.5 214.7,527.7 216,531.4 216.3,535.4 215.2,539.3 212.7,541.7 210.7,542.1 206.7,540.7 204.7,539 202.3,535.4 201.1,531.4 200.6,525.4 201.5,521.4ZM268.6,632.5 256.6,623.3 243.8,611.3 238.4,605.3 235.7,601.3 234,597.3 232.9,593.3 232.4,587.3 233,579.3 234,575.3 236,571.3 239.8,567.3 244.6,564.7 250.6,562.9 258.6,561.5 268.6,560.6M100.8,237 106.2,239.6 108.8,241.8 111.1,245.6 112.4,251.6 110.8,257.6 108.8,260.2 104.8,262.2 100.8,262.8M100.8,357.7 114.8,357.3 120.8,356.4 128.8,353.2 134.8,349.1 140.3,343.5 144.6,337.5 154.7,318.1 165,301.6 170.7,295.6 180.7,289.4 190.7,285.5 198.7,283.6 206.7,282.8 216.7,282.9 222.7,284.2 228.6,287.1 232.6,290.7 235.8,295.6 238,301.6 239.2,307.6 241.8,335.5 241.6,347.5 239,371.5 235.5,389.5 233.3,395.5 224.7,413.5 219.6,421.5 215.3,425.4 212.7,426.5 210.7,426.6 206.7,424.9 202.7,419.9 196.8,407.5 192.7,401.3 188.8,397.5 181.1,391.5 176.7,388.8 173.1,387.5 148.7,381.8 138.8,380.4 130.8,379.9 124.8,380.4 118.8,381.8 100.8,389" fill="none" stroke="#262320" stroke-width="1.65" stroke-linejoin="round"/>

<path d="M204.4,204.2L253,185.8M244.2,184L253,185.8L247.6,192.9M252.5,442.7L280.8,487.3M280.7,478.3L280.8,487.3L272.7,483.4M108.3,601.7L144.3,659.1M144.3,650.1L144.3,659.1L136.2,655.2M132.3,601.7L172.6,633.3M169.6,624.9L172.6,633.3L163.7,632.4M252.5,601.7L206.1,629.4M215.1,629.6L206.1,629.4L210.2,621.4M228.4,641.5L187.2,679.8M196.1,678.1L187.2,679.8L189.6,671.1M252.5,641.5L218.2,678.4M226.9,676.1L218.2,678.4L219.9,669.6M252.5,681.2L200.3,714.7M209.3,714.6L200.3,714.7L204.1,706.5" fill="none" stroke="#f4f4f4" stroke-opacity=".8" stroke-width="1.3"/><path d="M108.3,45.2L129.1,67.6M127.4,58.7L129.1,67.6L120.4,65.2M132.3,45.2L158.5,72.1M156.6,63.3L158.5,72.1L149.8,69.9M156.4,45.2L177.2,67.6M175.5,58.8L177.2,67.6L168.5,65.3M252.5,45.2L277.7,21.6M268.8,23.4L277.7,21.6L275.4,30.3M108.3,85L131.9,106.1M129.4,97.4L131.9,106.1L123.1,104.5M132.3,85L167.4,94.1M161.2,87.6L167.4,94.1L158.8,96.8M180.4,124.7L176.7,93.6M172.9,101.8L176.7,93.6L182.4,100.7M204.4,124.7L204.9,94M200,101.6L204.9,94L209.5,101.7M204.4,164.4L221.2,188.2M220.7,179.2L221.2,188.2L212.9,184.7M228.4,164.4L245.6,193.3M245.8,184.4L245.6,193.3L237.6,189.2M180.4,204.2L223.8,213.1M217.3,206.9L223.8,213.1L215.3,216.3M228.4,204.2L202.9,183.1M205.7,191.6L202.9,183.1L211.8,184.2M252.5,204.2L228.4,182.8M231,191.4L228.4,182.8L237.3,184.3M204.4,243.9L208.9,209.5M203.2,216.5L208.9,209.5L212.7,217.7M228.4,243.9L219.8,208.6M217,217.1L219.8,208.6L226.3,214.9M252.5,243.9L240.6,217.3M239.4,226.2L240.6,217.3L248.1,222.3M108.3,283.7L109.5,320.6M114,312.8L109.5,320.6L104.5,313.1M180.4,283.7L167.4,250.4M165.7,259.2L167.4,250.4L174.6,255.7M204.4,283.7L201.5,242.5M197.3,250.5L201.5,242.5L206.8,249.8M228.4,283.7L245.4,252.9M237.5,257.3L245.4,252.9L245.9,261.9M108.3,323.4L91.2,291.5M90.6,300.5L91.2,291.5L99,296M132.3,323.4L100.2,304.1M104.3,312.1L100.2,304.1L109.2,303.9M156.4,323.4L127.3,309M132,316.7L127.3,309L136.2,308.1M180.4,323.4L152.4,314.3M158.1,321.2L152.4,314.3L161.1,312.1M228.4,323.4L278,321.5M270.2,317L278,321.5L270.6,326.6M252.5,323.4L298.6,316.2M290.4,312.7L298.6,316.2L291.8,322.1M228.4,363.2L264.6,374.9M258.8,368L264.6,374.9L255.9,377.1M252.5,363.2L283.2,358.6M274.9,355L283.2,358.6L276.4,364.4M108.3,402.9L121.2,431.6M122.4,422.7L121.2,431.6L113.7,426.6M132.3,402.9L140.2,436.5M143.1,428L140.2,436.5L133.8,430.1M156.4,402.9L148.1,437.2M154.5,430.9L148.1,437.2L145.3,428.7M180.4,402.9L157.4,425.6M166.2,423.6L157.4,425.6L159.5,416.9M204.4,442.7L202.8,476.6M207.9,469.2L202.8,476.6L198.4,468.7M228.4,442.7L251.8,481.3M252,472.3L251.8,481.3L243.8,477.2M204.4,482.4L225.3,503.9M223.4,495.1L225.3,503.9L216.5,501.8M228.4,482.4L258.9,499.5M254.6,491.6L258.9,499.5L249.9,499.9M252.5,482.4L285.8,500.4M281.4,492.6L285.8,500.4L276.8,501M132.3,522.2L151.3,547.5M150.5,538.5L151.3,547.5L142.9,544.2M156.4,522.2L161.6,557.3M165.2,549L161.6,557.3L155.7,550.4M228.4,522.2L261.3,513.3M252.6,510.7L261.3,513.3L255.1,519.9M252.5,522.2L285.9,510.7M277.1,508.7L285.9,510.7L280.2,517.7M108.3,562L143.1,529.3M134.3,531.1L143.1,529.3L140.8,538M132.3,562L173.1,548.1M164.3,546L173.1,548.1L167.4,555M252.5,562L244.9,519.9M241.6,528.3L244.9,519.9L250.9,526.6M156.4,601.7L177.2,627.6M176.1,618.7L177.2,627.6L168.7,624.7M180.4,601.7L177,632.4M182.6,625.3L177,632.4L173.1,624.3M204.4,601.7L182.2,636.3M190.3,632.5L182.2,636.3L182.3,627.3M228.4,601.7L190.7,627.8M199.7,627.4L190.7,627.8L194.3,619.5M108.3,641.5L110.3,675.7M114.6,667.8L110.3,675.7L105.1,668.4M132.3,641.5L140.9,670.7M143.4,662.1L140.9,670.7L134.2,664.8M156.4,641.5L173,665.6M172.6,656.6L173,665.6L164.7,662M180.4,641.5L194.2,674.3M195.7,665.4L194.2,674.3L186.9,669.1M204.4,641.5L195.5,682.4M201.7,676L195.5,682.4L192.4,673.9M156.4,681.2L189,681.9M181.5,677L189,681.9L181.3,686.5M180.4,681.2L215.7,694.1M210.1,687L215.7,694.1L206.9,696M228.4,681.2L193.4,701.4M202.4,701.7L193.4,701.4L197.6,693.4M156.4,721L185.8,724.5M178.8,718.9L185.8,724.5L177.6,728.4M180.4,721L212.3,704.8M203.3,704L212.3,704.8L207.7,712.5M204.4,721L212.1,691.9M205.6,698.1L212.1,691.9L214.8,700.5M228.4,721L205.1,693.8M206.5,702.7L205.1,693.8L213.7,696.5M252.5,721L218.9,709.9M224.6,716.8L218.9,709.9L227.6,707.7" fill="none" stroke="#5c5654" stroke-opacity=".7" stroke-width="1.1"/><path d="M180.4,45.2L196.4,67.7M195.9,58.7L196.4,67.7L188.1,64.2M204.4,45.2L225.4,56.1M220.8,48.3L225.4,56.1L216.4,56.8M228.4,45.2L255.2,39.8M246.8,36.6L255.2,39.8L248.7,46M156.4,85L172.9,91.1M168.4,85.2L172.9,91.1L165.6,92.6M180.4,85L160.1,80.7M166.4,86.7L160.1,80.7L168.3,77.7M204.4,85L196.6,69.1M195.8,76.5L196.6,69.1L202.9,73M228.4,85L222.6,64.7M220.2,73.2L222.6,64.7L229.2,70.6M252.5,85L244.3,60.8M242.3,69.6L244.3,60.8L251.3,66.5M108.3,124.7L119.6,108.5M112,111.7L119.6,108.5L119.2,116.8M132.3,124.7L132.7,106.7M128.6,113L132.7,106.7L136.6,113.2M156.4,124.7L156.4,98.3M151.6,105.9L156.4,98.3L161.2,105.9M228.4,124.7L245.8,105.9M237.1,108.3L245.8,105.9L244.1,114.7M252.5,124.7L270.1,132.4M265.6,125.7L270.1,132.4L262.1,133.6M108.3,164.4L127.1,154.2M118.1,153.7L127.1,154.2L122.7,162.1M132.3,164.4L131.3,136.6M126.8,144.4L131.3,136.6L136.4,144M156.4,164.4L158.7,136M153.3,143.2L158.7,136L162.8,144M180.4,164.4L201.3,152.2M192.3,151.9L201.3,152.2L197.1,160.2M252.5,164.4L267.1,167.4M262.6,163.1L267.1,167.4L261.3,169.6M108.3,204.2L103.9,184M101,192.2L103.9,184L110,190.2M132.3,204.2L112.4,204M119.4,208.5L112.4,204L119.5,199.6M156.4,204.2L167.1,223.6M167.6,214.6L167.1,223.6L159.2,219.2M108.3,243.9L129.8,228.9M120.8,229.4L129.8,228.9L126.2,237.2M132.3,243.9L157.4,244.8M150,239.8L157.4,244.8L149.6,249.3M156.4,243.9L173.4,255.1M169.8,247.3L173.4,255.1L164.8,254.9M180.4,243.9L195.3,228.3M186.6,230.5L195.3,228.3L193.5,237.1M132.3,283.7L124.3,300.5M130.9,296.3L124.3,300.5L123.4,292.7M156.4,283.7L140.5,262.2M141.2,271.2L140.5,262.2L148.9,265.5M252.5,283.7L280.7,284.5M273.2,279.5L280.7,284.5L273,289.1M204.4,323.4L187.6,341.8M196.3,339.4L187.6,341.8L189.3,333M108.3,363.2L112.2,341.5M106.2,348.2L112.2,341.5L115.6,349.9M132.3,363.2L117.1,355.3M120.7,361.5L117.1,355.3L124.3,354.7M156.4,363.2L135.7,369.9M144.5,372.1L135.7,369.9L141.5,363M180.4,363.2L168.2,381M176.5,377.4L168.2,381L168.6,372M204.4,363.2L199,383.6M205.5,377.6L199,383.6L196.4,375.1M204.4,402.9L189.5,420.6M198.1,417.8L189.5,420.6L190.8,411.7M228.4,402.9L250.4,411.9M245.2,404.6L250.4,411.9L241.6,413.4M252.5,402.9L271.3,407M265.5,401.4L271.3,407L263.7,409.7M108.3,442.7L129.9,444.8M122.7,439.3L129.9,444.8L121.8,448.8M132.3,442.7L149.1,431.4M140.6,431.7L149.1,431.4L145.6,439.2M156.4,442.7L137.1,422M138.8,430.9L137.1,422L145.8,424.4M180.4,442.7L155.6,450.2M164.3,452.6L155.6,450.2L161.5,443.4M108.3,482.4L123.5,497.1M121.3,488.5L123.5,497.1L114.8,495.3M132.3,482.4L134.4,502.5M138.1,494.9L134.4,502.5L129.2,495.8M156.4,482.4L158.1,509.4M162.4,501.5L158.1,509.4L152.9,502.1M180.4,482.4L192,508.5M193.3,499.6L192,508.5L184.5,503.5M108.3,522.2L127.5,538.8M124.9,530.2L127.5,538.8L118.6,537.4M180.4,522.2L163.3,544.6M171.7,541.4L163.3,544.6L164.2,535.6M204.4,522.2L196.9,508.4M196.5,515L196.9,508.4L202.7,511.7M156.4,562L176.9,552.9M168,551.6L176.9,552.9L171.8,560.3M180.4,562L156.6,571.6M165.4,573.2L156.6,571.6L161.8,564.4M204.4,562L185,578.7M193.9,577.3L185,578.7L187.6,570.1M228.4,562L220.1,549.3M220.3,555.7L220.1,549.3L225.9,552M108.3,681.2L123.9,666.2M115.1,668L123.9,666.2L121.7,674.9M132.3,681.2L152.4,676.6M144.2,673.8L152.4,676.6L146.3,682.7M204.4,681.2L215.9,706.7M217.1,697.8L215.9,706.7L208.4,701.7M108.3,721L120.6,737.5M119.9,728.9L120.6,737.5L112.6,734.4M132.3,721L156.6,725.3M149.9,719.2L156.6,725.3L148.3,728.6M108.3,760.7L109.4,784.2M113.8,776.3L109.4,784.2L104.3,776.8M132.3,760.7L139.3,779.4M141,771.2L139.3,779.4L132.7,774.3M156.4,760.7L166.8,771.4M165.5,765.3L166.8,771.4L160.7,769.9M180.4,760.7L172.1,746.3M171.9,753.3L172.1,746.3L178.3,749.6M204.4,760.7L190.9,744.6M192.1,753.3L190.9,744.6L199.3,747.3M228.4,760.7L228,742.3M224.1,749L228,742.3L232.2,748.8M252.5,760.7L239.5,753.9M242.6,759.2L239.5,753.9L245.6,753.4M108.3,800.5L111.9,825.8M115.5,817.6L111.9,825.8L106.1,818.9M132.3,800.5L132.3,824.2M137.1,816.5L132.3,824.2L127.6,816.5M156.4,800.5L156,821.7M160.8,814.2L156,821.7L151.4,814.1M180.4,800.5L175.2,821.3M181.7,815L175.2,821.3L172.4,812.8M204.4,800.5L195.1,817.6M202.2,813.6L195.1,817.6L194.6,809.4M228.4,800.5L229.3,821.9M233.7,814L229.3,821.9L224.2,814.4M252.5,800.5L252.9,822.2M257.5,814.5L252.9,822.2L248,814.7" fill="none" stroke="#2e2a27" stroke-opacity=".88" stroke-width="1.15"/>
</g>
<text transform="translate(182.7,119.2) rotate(0)" text-anchor="middle" dy=".35em" class="lb" font-size="19" stroke="#F1EED5">0</text>
<text transform="translate(187.2,200) rotate(-90)" text-anchor="middle" dy=".35em" class="lb" font-size="18" stroke="#EAEEDD">1E-07</text>
<text transform="translate(186.3,509.9) rotate(0)" text-anchor="middle" dy=".35em" class="lb" font-size="19" stroke="#F1EED5">0</text>
<rect x="100.8" y="29.8" width="167.8" height="787.3" fill="none" stroke="#4a4644" stroke-width="1.8"/>
<path d="M100.8,29.8v-9.8M100.8,817.1v9.8M156.7,29.8v-9.8M156.7,817.1v9.8M212.7,29.8v-9.8M212.7,817.1v9.8M268.6,29.8v-9.8M268.6,817.1v9.8M100.8,760.9h-10.5M268.6,760.9h10.5M100.8,648.4h-10.5M268.6,648.4h10.5M100.8,535.9h-10.5M268.6,535.9h10.5M100.8,423.4h-10.5M268.6,423.4h10.5M100.8,311h-10.5M268.6,311h10.5M100.8,198.5h-10.5M268.6,198.5h10.5M100.8,86h-10.5M268.6,86h10.5" stroke="#4a4644" stroke-width="1.8" fill="none"/>
<text transform="translate(84.5,771.3) scale(.95,1)" text-anchor="end" class="tk">2</text>
<text transform="translate(84.5,658.8) scale(.95,1)" text-anchor="end" class="tk">4</text>
<text transform="translate(84.5,546.3) scale(.95,1)" text-anchor="end" class="tk">6</text>
<text transform="translate(84.5,433.8) scale(.95,1)" text-anchor="end" class="tk">8</text>
<text transform="translate(84.5,321.4) scale(.95,1)" text-anchor="end" class="tk">10</text>
<text transform="translate(84.5,208.9) scale(.95,1)" text-anchor="end" class="tk">12</text>
<text transform="translate(84.5,96.4) scale(.95,1)" text-anchor="end" class="tk">14</text>
<text transform="translate(99.6,856.6) scale(.95,1)" text-anchor="middle" class="tk">1</text>
<text transform="translate(155.5,856.6) scale(.95,1)" text-anchor="middle" class="tk">2</text>
<text transform="translate(211.5,856.6) scale(.95,1)" text-anchor="middle" class="tk">3</text>
<text transform="translate(267.4,856.6) scale(.95,1)" text-anchor="middle" class="tk">4</text>
<text x="186.1" y="899.6" text-anchor="middle" class="ti">Line</text>
<text transform="translate(34.8,424.6) rotate(-90)" text-anchor="middle" class="ti">Row</text>
<text x="9.3" y="45" class="pl">(a)</text>
<rect x="343.3" y="678.4" width="33.8" height="21.4" fill="#BFC272"/>
<rect x="343.3" y="657.4" width="33.8" height="21.4" fill="#92BE8A"/>
<rect x="343.3" y="636.3" width="33.8" height="21.4" fill="#7AB67A"/>
<rect x="343.3" y="615.3" width="33.8" height="21.4" fill="#6FB070"/>
<rect x="343.3" y="594.3" width="33.8" height="21.4" fill="#7DB478"/>
<rect x="343.3" y="573.3" width="33.8" height="21.4" fill="#A9BA86"/>
<rect x="343.3" y="552.3" width="33.8" height="21.4" fill="#CDB958"/>
<rect x="343.3" y="531.2" width="33.8" height="21.4" fill="#E4BB3E"/>
<rect x="343.3" y="510.2" width="33.8" height="21.4" fill="#EBA03A"/>
<rect x="343.3" y="489.2" width="33.8" height="21.4" fill="#CF9036"/>
<rect x="343.3" y="468.2" width="33.8" height="21.4" fill="#B8963F"/>
<rect x="343.3" y="447.2" width="33.8" height="21.4" fill="#CDB27B"/>
<rect x="343.3" y="426.1" width="33.8" height="21.4" fill="#ECCB93"/>
<rect x="343.3" y="405.1" width="33.8" height="21.4" fill="#F8DDA8"/>
<rect x="343.3" y="384.1" width="33.8" height="21.4" fill="#F8EDCB"/>
<rect x="343.3" y="363.1" width="33.8" height="21.4" fill="#EAF0E0"/>
<rect x="343.3" y="342.1" width="33.8" height="21.4" fill="#DDEDE8"/>
<rect x="343.3" y="321" width="33.8" height="21.4" fill="#D8EBE8"/>
<rect x="343.3" y="300" width="33.8" height="21.4" fill="#D2E8E6"/>
<rect x="343.3" y="279" width="33.8" height="21.4" fill="#B9DDDD"/>
<rect x="343.3" y="258" width="33.8" height="21.4" fill="#8ECACC"/>
<rect x="343.3" y="237" width="33.8" height="21.4" fill="#56B4CC"/>
<rect x="343.3" y="215.9" width="33.8" height="21.4" fill="#5498C8"/>
<rect x="343.3" y="194.9" width="33.8" height="21.4" fill="#5170AE"/>
<rect x="343.3" y="173.9" width="33.8" height="21.4" fill="#4A5A9C"/>
<path d="M343.3,678.4h33.8M343.3,657.4h33.8M343.3,636.3h33.8M343.3,615.3h33.8M343.3,573.3h33.8M343.3,552.3h33.8M343.3,531.2h33.8M343.3,510.2h33.8M343.3,468.2h33.8M343.3,447.2h33.8M343.3,426.1h33.8M343.3,405.1h33.8M343.3,363.1h33.8M343.3,342.1h33.8M343.3,321h33.8M343.3,300h33.8M343.3,258h33.8M343.3,237h33.8M343.3,215.9h33.8M343.3,194.9h33.8" stroke="#b9b9b9" stroke-opacity=".8" stroke-width="1" fill="none"/>
<path d="M343.3,594.3h33.8M343.3,489.2h33.8M343.3,384.1h33.8M343.3,279h33.8" stroke="#222" stroke-width="1.5" fill="none"/>
<rect x="343.3" y="173.9" width="33.8" height="525.5" fill="none" stroke="#3c3a38" stroke-width="1.5"/>
<text x="437.4" y="706.3" text-anchor="end" class="cl">−15</text>
<text x="437.4" y="685.4" text-anchor="end" class="cl">−14</text>
<text x="437.4" y="664.6" text-anchor="end" class="cl">−13</text>
<text x="437.4" y="643.7" text-anchor="end" class="cl">−12</text>
<text x="437.4" y="622.9" text-anchor="end" class="cl">−11</text>
<text x="437.4" y="602" text-anchor="end" class="cl">−10</text>
<text x="437.4" y="581.2" text-anchor="end" class="cl">−9</text>
<text x="437.4" y="560.3" text-anchor="end" class="cl">−8</text>
<text x="437.4" y="539.5" text-anchor="end" class="cl">−7</text>
<text x="437.4" y="518.6" text-anchor="end" class="cl">−6</text>
<text x="437.4" y="497.7" text-anchor="end" class="cl">−5</text>
<text x="437.4" y="476.9" text-anchor="end" class="cl">−4</text>
<text x="437.4" y="456" text-anchor="end" class="cl">−3</text>
<text x="437.4" y="435.2" text-anchor="end" class="cl">−2</text>
<text x="437.4" y="414.3" text-anchor="end" class="cl">−1</text>
<text x="433.8" y="393.5" text-anchor="end" class="cl">0</text>
<text x="433.8" y="372.6" text-anchor="end" class="cl">1</text>
<text x="433.8" y="351.7" text-anchor="end" class="cl">2</text>
<text x="433.8" y="330.9" text-anchor="end" class="cl">3</text>
<text x="433.8" y="310" text-anchor="end" class="cl">4</text>
<text x="433.8" y="289.2" text-anchor="end" class="cl">5</text>
<text x="433.8" y="268.3" text-anchor="end" class="cl">6</text>
<text x="433.8" y="247.5" text-anchor="end" class="cl">7</text>
<text x="433.8" y="226.6" text-anchor="end" class="cl">8</text>
<text x="433.8" y="205.8" text-anchor="end" class="cl">9</text>
<text x="433.8" y="184.9" text-anchor="end" class="cl">10</text>
<text transform="translate(320.3,428.6) rotate(-90)" text-anchor="middle" class="ti" style="font-size:29.2px">Current / 10<tspan dy="-11" font-size="17">−7</tspan><tspan dy="11"> A</tspan></text>
</g>
<g id="panel-b">
<clipPath id="cpb"><rect x="610.9" y="29.8" width="168.1" height="787.3"/></clipPath>
<g clip-path="url(#cpb)">
<rect x="609.9" y="28.8" width="170.1" height="789.3" fill="#BEC478"/>
<path d="M610.9,29.8 779,29.8 779,817.1 610.9,817.1Z" fill="#82BE86" fill-rule="evenodd"/>
<path d="M610.9,29.8 779,29.8 779,817.1 610.9,817.1Z" fill="#6DB070" fill-rule="evenodd"/>
<path d="M610.9,29.8 779,29.8 779,519.5 771.5,521.4 767,524.1 763.2,529.4 761.9,533.4 761.5,537.3 761.9,541.3 763,544.6 766.3,549.3 769,551.4 773,553.2 779,554.2 779,817.1 610.9,817.1 610.9,552.1 612.9,553.7 616.9,555.1 636.9,554.7 646.9,553.7 668.9,549.3 672.9,546.4 674.6,543.3 675,541.3 674,537.3 672.2,535.4 666,531.4 658.9,527.9 648.9,524.1 634.1,517.4 618.9,514.1 612.9,513.5 610.9,513.8Z" fill="#BDBB6C" fill-rule="evenodd"/>
<path d="M610.9,29.8 779,29.8 779,508.5 771,509.4 765,511.1 757,515.4 752.1,519.4 748.9,523.4 746.1,529.4 744.7,535.4 744.1,543.3 744.7,549.3 745.9,553.3 748.4,557.3 753,561.5 759,564.6 765,566.3 779,566.8 779,763 775,767.7 771.2,775.1 765,801.1 765.4,805.1 766.3,807.1 771.2,813.1 771.4,817.1 640.1,817.1 630.9,807.6 624.9,803 618.9,800.3 610.9,798.9 610.9,559.9 616.9,561.6 628.9,562.3 634.9,563.2 664.9,570.6 674.9,571.3 682.9,569.9 686.9,568.2 690.9,565.7 694.8,561.3 696.4,555.3 696.2,551.3 695.3,547.3 691.4,539.3 685,531.4 678.9,526.6 671.7,523.4 624.9,507.1 618.9,505.7 610.9,505.5Z" fill="#E8B540" fill-rule="evenodd"/>
<path d="M610.9,29.8 779,29.8 779,496.1 757,499.9 749,502.8 743,506.2 737,511.2 733.6,515.4 730,521.4 725,532.4 723,534.4 721,534.7 719,534.1 708.6,527.4 693.3,521.4 646.9,508.3 622.9,498.6 610.9,496.2ZM610.9,567.3 610.9,566.5 616.9,568.4 626.9,569.3 630.9,570.1 634.9,572.1 642.9,577.3 650.9,584 656.9,587.7 662.9,589.8 676.9,592.7 701,591.5 725,588.9 730.8,587.3 743,582.4 749,580.9 761,579.2 779,578 779,754.2 771,762.8 769.5,765.1 767,770.6 762.7,783.1 759.1,789.1 755,793 745,799.2 737,802.5 729,803.8 719,806.7 715,807.2 690.9,804.3 676.9,800.5 670.9,797.5 656.9,787 650.9,781.8 644.7,775.1 628.9,763.1 624.9,760.8 618.9,758.2 614.9,757.1 610.9,756.9Z" fill="#C4923A" fill-rule="evenodd"/>
<path d="M610.9,29.8 779,29.8 779,484 757,484 747,485.5 739,488.5 707,504.6 692.9,508.4 686.9,509 680.9,508.7 670.9,507.8 662.9,506.2 646.9,501.2 624.9,491 618.9,489.3 610.9,488.2ZM610.9,577.3 620.9,576.4 626.9,577.6 631.7,581.3 636.9,589.7 650.9,603 654.9,605.1 668.9,609.7 674.9,610.8 682.9,610.2 714.9,603.3 735,600.9 765,592.7 773,591.3 779,591 779,748.2 775,751.2 766.1,761.1 763,767.1 759,779.3 757,782.2 753,785.8 741,792.3 733,794.2 711,796.6 703,795.9 692.9,793.6 682.9,790.1 675.2,785.1 658.9,771.1 650.9,760.7 644.9,755.6 634.9,751 628.9,747.3 624.9,745.8 618.9,745 610.9,745.4ZM668.9,691.1 664.9,693.2 662.9,695.3 660.9,698.3 659,703.2 659.1,707.2 660.9,713.2 662.9,715.9 664.9,716.9 668.9,716.8 674.9,713.2 680.3,707.2 682,703.2 681.8,699.2 680.9,696.8 678.9,693.9 674.9,691.2 672.9,690.7Z" fill="#D2B67E" fill-rule="evenodd"/>
<path d="M610.9,29.8 779,29.8 779,339.1 774.3,341.5 768.2,345.5 763.7,349.5 760.4,353.5 757,359.1 755.1,363.5 753.5,369.5 753.1,375.5 753.5,381.5 755,389.5 757.6,397.5 764,413.5 767.5,429.4 770.3,435.4 774.8,441.4 775.8,443.4 775.5,445.4 773.8,447.4 771,448.7 761,450.3 757,451.8 749,455.8 743,459.5 738.7,463.4 732.2,475.4 729,479.4 726.6,481.4 723,483 713,483.7 707,486.9 690.9,497.3 686.9,499 682.9,500 670.9,500.9 660.9,499.2 646.9,493.8 628.9,483.6 622.9,481.8 610.9,479.7 610.9,257.3 614.3,255.6 617.4,251.6 621.4,231.6 621.5,225.6 619.5,217.6 619,209.6 619.9,193.7 621.8,183.7 622.3,177.7 620.5,165.7 614,143.7 614.1,127.7 610.9,112.9ZM610.9,583.3 610.9,582.2 620.9,581.9 624.9,583.3 626.9,584.9 642.9,608.6 646.9,612.4 654.9,617.7 657.1,621.3 658,627.3 657.3,631.3 653.9,641.3 652.5,647.3 649.5,673.2 647.3,705.2 645.5,711.2 640.9,717.9 628.9,728.9 620.9,732.9 610.9,735.6ZM760.5,607.3 771,606.8 779,607.6 779,741.7 771.1,747.2 762.1,757.2 758.7,763.1 754.4,775.1 752.8,777.1 749,779.9 739,785.1 735,786.3 709,788.2 703,787 689.6,781.1 686.6,779.1 682.5,775.1 679.4,771.1 676.1,765.1 674.8,761.1 673.8,755.2 674,749.2 674.8,745.2 676.8,739.2 679.6,733.2 685,725.2 695,715.2 700.1,709.2 703.3,703.2 704.2,699.2 704.2,695.2 702.3,689.2 692.4,673.2 690.5,669.2 688.6,663.2 687.6,657.2 687,649.2 687.4,643.3 688.7,637.3 691.8,631.3 697,625.9 703.6,621.3 711,617.7 717.8,615.3 727,612.9Z" fill="#F5DBA5" fill-rule="evenodd"/>
<path d="M624.9,29.8 729.7,29.8 728.2,37.8 725.4,45.8 723.3,49.8 715,61.4 712.5,65.8 710.6,71.8 709.4,79.8 709.7,85.8 710.4,89.7 712.9,95.7 715,99.3 718.6,103.7 721,105.6 727,107.8 731,107.6 735,106.1 739,102.9 741.4,99.7 743.3,95.7 745.7,81.8 747.3,75.8 749.9,69.8 754,63.8 758.6,59.8 765,55.8 771,53.4 779,51.3 779,310.8 765,317.7 753,326.5 741,338.1 735.1,345.5 731.3,351.5 728.3,357.5 725.7,365.5 724.5,371.5 723.8,379.5 724.2,385.5 725.6,393.5 732.6,417.5 732.8,425.4 731,432.6 728.6,437.4 719.6,451.4 714.8,461.4 710.4,467.4 695.1,483.4 688.5,489.4 682.9,492.5 674.9,494.5 668.9,494.7 664.9,494.1 654.9,490.4 646.9,485.9 636.9,477.6 632.9,475.2 626.9,473.8 610.9,471.9 610.9,270.2 617.9,269.6 624.9,268 628.9,266 631.7,263.6 636.5,257.6 638.4,253.6 641,245.6 648.9,233.6 650.3,229.6 649.3,227.6 640.9,221.9 639.4,219.6 638.9,217.6 642.8,195.7 643.1,183.7 642.5,179.7 633.7,155.7 630.9,145.7 630,139.7 627.5,105.7 625.1,89.7 621.5,71.8 621,63.8 621.4,53.8ZM721,247.5 717,249.6 712,253.6 708.1,259.6 707.3,263.6 707.5,265.6 709,269.4 710.7,271.6 713.3,273.6 717.3,275.6 721,276.6 727,277.4 737,277 741.8,275.6 745.1,273.6 748.3,269.6 749.1,267.6 749.4,263.6 747.8,257.6 745.2,253.6 740.6,249.6 736.9,247.6 733,246.3 727,245.8ZM610.9,587.3 610.9,585.6 614.9,585.6 618.9,585.8 622.9,587.3 625,589.3 628.4,595.3 630.9,601.3 632.7,607.3 634.3,615.3 634.8,623.3 631.9,639.3 631.7,643.3 632.5,649.2 635.9,661.2 637,691.2 636.4,703.2 634.3,709.2 631.8,713.2 626.9,718.5 620.9,723.2 616.9,725.2 610.9,727.1ZM733.3,623.3 739,622.1 745,621.7 761,622.2 771.4,625.3 775.5,627.3 779,629.8 779,729.6 767.5,737.2 761,743 755,752.4 749,765.3 747,768.2 743.6,771.1 733,776.9 729,778.2 723,778.7 711,778.2 707,777.1 703,775.1 697.8,771.1 694.3,767.1 692.2,763.1 690.9,759.2 690.4,755.2 690.7,749.2 692.2,743.2 693.7,739.2 696,735.2 699,731.6 705,727.2 723.4,717.2 728.3,713.2 731,709 732.1,705.2 732.6,699.2 732.2,695.2 731,691.8 728.4,687.2 725.2,683.2 714.8,673.2 709.8,667.2 706.3,659.2 705.2,651.2 705.7,647.3 706.9,643.3 709,639.3 712.2,635.3 716.8,631.3 721,628.5 727,625.5Z" fill="#EFF3E1" fill-rule="evenodd"/>
<path d="M640.6,29.8 703.9,29.8 702,39.8 694.6,61.8 692,73.8 691.8,79.8 692.4,85.8 694,93.7 695.9,99.7 699.4,107.7 703,113.9 717,134.7 721,139.5 723,141 727,142.2 731,142.2 751,137.8 759,136.8 763,136.9 767,138.6 773.1,143.7 776.9,145.7 779,146.1 779,235 767,236.1 761,236 741,233.2 731,232.6 723,233.4 713,235.8 699,237.8 690.9,238.5 684.9,238.3 680.9,237.1 676.1,233.6 662.9,217.8 660,209.6 658,197.7 643.1,151.7 640.8,141.7 640.4,129.7 642.1,111.7 642.2,105.7 638.9,69.8 638.4,57.8 638.8,45.8ZM776.7,69.8 779,68.9 779,129.5 775,128.4 771,126.4 769,124.4 767,121.2 765,116.2 763,108.8 761,95.7 762.9,85.8 765.3,79.8 770.7,73.8ZM635.6,275.6 642.9,275.3 648.9,276.4 652.9,278.1 658.9,282.1 662.4,285.6 665.1,289.6 666.6,293.6 668.9,304.4 670.9,307.5 672.9,308.6 676.9,309.6 688.9,309.5 711.3,305.6 719,305.2 721,305.6 724.1,307.6 725.6,309.6 726.2,311.5 726.2,313.5 724.8,317.5 723,320.2 715.2,327.5 712.2,333.5 710.1,341.5 707,359.5 701.2,385.5 698,403.5 695,411.4 688.9,420.7 688.1,423.5 688.5,429.4 693.1,447.4 694,453.4 694,459.4 692.6,467.4 689.6,475.4 684.9,482.7 680.9,485.7 676.9,487.5 672.9,488.5 668.9,488.8 664.9,488.2 658.3,485.4 652.6,481.4 640.9,469.1 634.9,465.7 628.9,464.3 614.9,464.4 610.9,463.4 610.9,278.8 624.9,278ZM610.9,589.3 616.9,589.6 620.9,591.7 623.9,597.3 624.9,603.3 624.5,607.3 622.9,612 616.9,624 610.9,632.8ZM610.9,663.2 610.9,662.4 616.9,669 621.1,675.2 625.2,685.2 627.1,695.2 626.2,703.2 624.7,707.2 622.9,710.2 619.8,713.2 616.9,715.1 610.9,717.5ZM775,677.2 779,676.2 779,715.8 771.6,715.2 765,713.4 761,711.5 756.8,707.2 754.9,703.2 754,699.2 754,695.2 754.9,691.2 756.7,687.2 758.3,685.2 763,682ZM720.6,737.2 729,736.4 735,738 738.4,741.2 739.4,743.2 740.2,747.2 739.3,757.2 737,763.1 733.4,767.1 730.7,769.1 727,770.9 723,771.7 719,771.5 715,770.6 711.7,769.1 709,767.2 705.7,763.1 703.9,757.2 703.9,753.2 704.7,749.2 706.6,745.2 708.2,743.2 713,739.5Z" fill="#DAECEA" fill-rule="evenodd"/>
<path d="M654.4,29.8 685,29.8 684.4,37.8 683.3,41.8 681.4,45.8 672.9,57.7 668.9,62.1 666.9,63.2 664.9,62.2 662.9,59.5 658.2,49.8 654.9,38.6 654.2,33.8ZM664.8,75.8 666.9,75.1 668.9,77.7 670.9,82.3 673.8,95.7 675.9,101.7 682.1,113.7 692.9,129.3 703,146 707,151.1 711,154.8 717,158.7 727,162.2 759,168.4 779,170.7 779,217.1 727,219.9 719,219.8 705,218.5 695,215.8 686.9,212 677.5,205.6 670.9,199.1 668.9,195.8 662.9,181.6 658.8,169.7 653.6,157.7 651.5,149.7 650.3,141.7 650.9,131.7 652.9,124.1 660,103.7 661.2,95.7 661.7,83.8 662.9,79ZM610.9,287.6 610.9,286.6 612.9,286.7 628.9,288.6 634.9,290.6 640.9,294.7 645.3,299.6 653.5,313.5 660.8,323.5 664.9,327.8 674.9,336.1 680,341.5 684.4,349.5 686.2,357.5 686.2,363.5 685.3,369.5 681.4,379.5 673,391.5 659.7,405.5 653.3,413.5 650.9,417.5 645.5,431.4 642.9,436.2 640.9,438.2 636.9,440.3 630.9,442.2 624.9,443.2 618.9,443 610.9,441.8ZM659,455.4 662.9,455.2 666.9,456.6 670.9,459.2 674.2,463.4 675.7,467.4 676,473.4 674.1,477.4 670.9,479.9 666.9,480.7 664.9,480 661.9,477.4 659.1,473.4 656.8,467.4 656,461.4 656.8,457.4ZM610.9,595.3 610.9,594.3 613.9,595.3 615.6,597.3 616.2,599.3 616.2,601.3 615,605.3 610.9,610.6ZM718.1,753.2 721,751.6 723,751.5 726.4,753.2 727.7,755.2 728.2,757.2 727.9,759.2 726.7,761.1 725,762.7 723,763.5 720.3,763.1 717.6,761.1 716.5,759.2 716.2,757.2 716.7,755.2Z" fill="#C6E3E4" fill-rule="evenodd"/>
<path d="M666.9,135.7 668.9,134.8 672.9,135 676.9,137.7 678.9,140.5 681,145.7 682,151.7 682,157.7 680.9,161.9 678.9,162.1 676.9,161 666.9,152.5 664.7,149.7 663.1,145.7 663.1,141.7 664.9,137.7ZM714.3,183.7 719,183.1 725,183.7 729,184.9 733,187.2 735.3,189.7 736.8,193.7 736.1,197.7 734.7,199.6 731,202.4 727,203.8 721.8,203.6 717,201.6 712.8,197.7 708.6,189.7 708.5,187.7 709.7,185.7ZM610.9,295.6 616.9,296.3 622.9,298.6 628.9,303 633.3,307.6 636.9,313.5 647.3,337.5 652.1,345.5 662.3,359.5 664.2,365.5 663.9,367.5 661.7,371.5 644.9,388.2 632.4,403.5 622,417.5 616.9,421.2 610.9,423.1Z" fill="#7FC4CC" fill-rule="evenodd"/>
<path d="M610.9,307.6 610.9,305.7 612.9,306 616.9,307.5 619.7,309.6 621.2,311.5 622.8,315.5 623.3,321.5 622.4,327.5 620.8,331.5 615.2,339.5 610.9,343.2Z" fill="#4E8AC6" fill-rule="evenodd"/>
<path d="M779,519.5 771.5,521.4 767,524.1 763.2,529.4 761.9,533.4 761.5,537.3 761.9,541.3 763,544.6 766.3,549.3 769,551.4 773,553.2 779,554.2M610.9,552.1 612.9,553.7 616.9,555.1 636.9,554.7 646.9,553.7 668.9,549.3 672.9,546.4 674.6,543.3 675,541.3 674,537.3 672.2,535.4 666,531.4 658.9,527.9 648.9,524.1 634.1,517.4 618.9,514.1 612.9,513.5 610.9,513.8M779,508.5 771,509.4 765,511.1 757,515.4 752.1,519.4 748.9,523.4 746.1,529.4 744.7,535.4 744.1,543.3 744.7,549.3 745.9,553.3 748.4,557.3 753,561.5 759,564.6 765,566.3 779,566.8M610.9,559.9 616.9,561.6 628.9,562.3 634.9,563.2 664.9,570.6 674.9,571.3 682.9,569.9 686.9,568.2 690.9,565.7 694.8,561.3 696.4,555.3 696.2,551.3 695.3,547.3 691.4,539.3 685,531.4 678.9,526.6 671.7,523.4 624.9,507.1 618.9,505.7 610.9,505.5M779,763 775,767.7 771.2,775.1 765.3,799.1 765.4,805.1 767,808.3 771.2,813.1 771.4,817.1M640.1,817.1 630.9,807.6 624.9,803 618.9,800.3 610.9,798.9M779,484 757,484 747,485.5 739,488.5 707,504.6 697,507.6 686.9,509 670.9,507.8 660.9,505.7 644.9,500.4 624.9,491 618.9,489.3 610.9,488.2M610.9,577.2 620.9,576.4 626.9,577.6 631.7,581.3 636.9,589.7 650.9,603 654.9,605.1 668.9,609.7 674.9,610.8 682.9,610.2 714.9,603.3 735,600.9 765,592.7 773,591.3 779,591M668.9,691.1 664.9,693.2 662.9,695.3 660.9,698.3 659,703.2 659.1,707.2 660.9,713.2 662.9,715.9 664.9,716.9 668.9,716.8 674.9,713.2 680.3,707.2 682,703.2 681.8,699.2 680.9,696.8 678.9,693.9 674.9,691.2 672.9,690.7ZM779,748.2 775,751.2 766.1,761.1 763,767.1 759,779.3 757,782.2 753,785.8 743,791.4 737,793.6 715,796.4 709,796.6 701,795.6 692.9,793.6 684.9,790.9 678.9,787.9 658.9,771.1 649.4,759.2 642.9,754.4 635.3,751.2 628.9,747.3 624.9,745.8 618.9,745 610.9,745.4M610.9,257.3 614.3,255.6 617.4,251.6 621.4,231.6 621.5,225.6 619.5,217.6 619,209.6 619.9,193.7 621.8,183.7 622.3,177.7 620.5,165.7 614,143.7 614.1,127.7 610.9,112.9M779,339.1 774.3,341.5 768.2,345.5 763.7,349.5 760.4,353.5 757,359.1 755.1,363.5 753.9,367.5 753.1,373.5 753.5,381.5 755,389.5 757.6,397.5 764,413.5 767.5,429.4 770.3,435.4 774.8,441.4 775.8,443.4 775.5,445.4 773.8,447.4 771,448.7 759,451 749,455.8 743,459.5 738.7,463.4 732.2,475.4 729,479.4 726.6,481.4 723,483 713,483.7 707,486.9 690.9,497.3 686.9,499 682.9,500 670.9,500.9 660.9,499.2 646.9,493.8 628.9,483.6 622.9,481.8 610.9,479.7M610.9,582.2 620.9,581.9 624.9,583.3 626.9,584.9 642.9,608.6 646.9,612.4 654.9,617.7 657.1,621.3 658,627.3 657.3,631.3 653.9,641.3 652.5,647.3 649.5,673.2 647.3,705.2 645.5,711.2 640.9,717.9 628.9,728.9 620.9,732.9 610.9,735.6M779,741.7 771.1,747.2 762.1,757.2 758.7,763.1 755,774 753,776.9 749,779.9 743.2,783.1 739,785.2 735,786.3 709,788.2 703,787 693.4,783.1 686.6,779.1 680.8,773.1 676.1,765.1 674,757.2 673.8,751.2 674.3,747.2 676,741.2 678.6,735.2 685,725.2 695,715.2 700.1,709.2 703.3,703.2 704.2,699.2 704.2,695.2 702.3,689.2 691.4,671.2 688.2,661.2 687.1,651.2 687.4,643.3 688.7,637.3 691.8,631.3 697.6,625.3 703.6,621.3 712,617.3 721,614.4 733,611.8 759,607.5 769,606.8 779,607.6M729.7,29.8 728.2,37.8 726.3,43.8 723.3,49.8 713,64.9 711,70.2 709.6,77.8 709.7,85.8 711.9,93.7 717,102 719,104.1 723,106.6 729,107.9 733,107 737,104.8 741,100.4 743.3,95.7 745.7,81.8 747.3,75.8 751,67.8 755,62.8 759,59.5 765,55.8 771,53.4 779,51.3M721,247.5 717,249.6 712,253.6 708.1,259.6 707.3,263.6 707.5,265.6 709,269.4 710.7,271.6 713.3,273.6 717.3,275.6 721,276.6 727,277.4 737,277 741.8,275.6 745.1,273.6 748.3,269.6 749.1,267.6 749.4,263.6 747.8,257.6 745.2,253.6 740.6,249.6 736.9,247.6 733,246.3 727,245.8ZM610.9,270.2 617.9,269.6 624.9,268 628.9,266 631.7,263.6 636.5,257.6 638.4,253.6 641,245.6 648.9,233.6 650.3,229.6 649.3,227.6 640.9,221.9 639.4,219.6 638.9,217.6 642.8,195.7 643.1,183.7 642.5,179.7 633.7,155.7 630.9,145.7 630,139.7 627.5,105.7 625.1,89.7 621.5,71.8 621,63.8 621.4,53.8 624.9,29.8M779,310.8 763,318.9 751,328.2 743,335.9 738.1,341.5 733,348.8 729.2,355.5 725.3,367.5 724,375.5 723.8,381.5 725.6,393.5 732.6,417.5 732.9,423.5 732.1,429.4 729,436.8 720.8,449.4 713.6,463.4 710.4,467.4 693,485.4 686.9,490.5 680.9,493.2 672.9,494.7 666.9,494.5 660.9,492.9 650.9,488.4 646.2,485.4 636.9,477.6 632.9,475.2 626.9,473.8 610.9,471.9M610.9,585.6 616.9,585.6 620.9,586.3 622.9,587.3 624.9,589.2 629.3,597.3 632.7,607.3 634.3,615.3 634.8,623.3 631.9,639.3 631.7,643.3 632.5,649.2 635.9,661.2 637,691.2 636.4,703.2 634.3,709.2 631.8,713.2 626.9,718.5 620.9,723.2 616.9,725.2 610.9,727.1M779,729.6 767.5,737.2 760.9,743.2 755,752.4 749,765.3 746.1,769.1 743,771.5 732.4,777.1 729,778.2 723,778.7 713,778.4 707,777.1 703,775.1 697.8,771.1 694.3,767.1 692.2,763.1 690.6,757.2 690.7,749.2 692.9,741.2 696,735.2 699,731.6 703,728.4 720.3,719.2 726.1,715.2 729,712.4 730.9,709.2 732.4,703.2 732.2,695.2 729.6,689.2 725.2,683.2 711.3,669.2 708.6,665.2 706.9,661.2 705.4,655.2 705.4,649.2 706.9,643.3 709,639.3 714.3,633.3 721,628.5 729,624.8 739,622.1 753,621.6 763,622.6 771.4,625.3 775.5,627.3 779,629.8M703.9,29.8 701.5,41.8 693.4,65.8 692.2,71.8 691.7,77.8 692.4,85.8 694.6,95.7 698.4,105.7 702.8,113.7 719,137.4 721.2,139.7 724.6,141.7 731,142.2 751,137.8 759,136.8 763,136.9 767,138.6 773.1,143.7 776.9,145.7 779,146.1M779,129.5 775,128.4 771,126.4 769,124.4 767,121.2 765,116.2 763,108.8 761,95.7 762.9,85.8 765.3,79.8 771,73.5 775,70.7 779,68.9M779,235 767,236.1 761,236 741,233.2 731,232.6 723,233.4 713,235.8 699,237.8 690.9,238.5 684.9,238.3 680.9,237.1 676.1,233.6 662.9,217.8 660,209.6 658,197.7 643.1,151.7 640.8,141.7 640.4,129.7 642.1,111.7 642.2,105.7 638.9,69.8 638.4,57.8 638.8,45.8 640.6,29.8M610.9,278.8 622.9,278.3 638.9,275.2 644.9,275.5 648.9,276.4 652.9,278.1 656.9,280.5 662.9,286.3 666,291.6 668.9,304.4 670.9,307.5 672.9,308.6 676.9,309.6 688.9,309.5 711.3,305.6 719,305.2 721,305.6 724.1,307.6 725.6,309.6 726.2,311.5 726.2,313.5 724.8,317.5 723,320.2 715.2,327.5 712.2,333.5 710.1,341.5 707,359.5 701.2,385.5 698,403.5 695,411.4 688.9,420.7 688.1,423.5 688.5,429.4 693.5,449.4 694.1,457.4 693.5,463.4 692,469.4 689.6,475.4 686,481.4 682.9,484.5 676.9,487.5 670.9,488.7 664.9,488.2 658.3,485.4 652.9,481.7 642.9,470.9 636.9,466.6 628.9,464.3 614.9,464.4 610.9,463.4M610.9,589.1 616.9,589.6 620.9,591.7 623.9,597.3 624.9,603.3 624.5,607.3 622.9,612 616.9,624 610.9,632.8M610.9,662.4 617.1,669.2 622.1,677.2 625.2,685.2 627.1,695.2 626.2,703.2 624.7,707.2 622.9,710.2 619.8,713.2 616.9,715.1 610.9,717.5M779,715.8 771.6,715.2 764.5,713.2 760.5,711.2 758.3,709.2 755.7,705.2 754.4,701.2 753.9,697.2 754.3,693.2 755.7,689.2 759,684.5 763,682 779,676.2M720.6,737.2 729,736.4 735,738 738.4,741.2 739.4,743.2 740.2,747.2 739.3,757.2 737,763.1 733.4,767.1 730.7,769.1 727,770.9 723,771.7 719,771.5 715,770.6 711.7,769.1 709,767.2 705.7,763.1 703.9,757.2 703.9,753.2 704.7,749.2 706.6,745.2 708.2,743.2 713,739.5ZM666.9,135.7 668.9,134.8 672.9,135 676.9,137.7 678.9,140.5 681,145.7 682,151.7 682,157.7 680.9,161.9 678.9,162.1 676.9,161 666.9,152.5 664.7,149.7 663.1,145.7 663.1,141.7 664.9,137.7ZM714.3,183.7 719,183.1 725,183.7 729,184.9 733,187.2 735.3,189.7 736.8,193.7 736.1,197.7 734.7,199.6 731,202.4 727,203.8 721.8,203.6 717,201.6 712.8,197.7 708.6,189.7 708.5,187.7 709.7,185.7ZM610.9,295.4 616.9,296.3 622.9,298.6 628.9,303 633.3,307.6 636.9,313.5 647.3,337.5 652.1,345.5 662.3,359.5 664.2,365.5 663.9,367.5 661.7,371.5 644.9,388.2 632.4,403.5 622,417.5 616.9,421.2 610.9,423.1M610.9,305.7 616.9,307.5 620.9,311.1 622.8,315.5 623.3,321.5 622.4,327.5 620.8,331.5 615.2,339.5 610.9,343.2" fill="none" stroke="#9aa2a2" stroke-opacity=".62" stroke-width="1.15"/>
<path d="M779,496.1 757,499.9 749,502.8 743,506.2 738.9,509.4 735.1,513.4 730,521.4 725,532.4 723,534.4 721,534.7 717,533 708.6,527.4 693.3,521.4 646.9,508.3 622.9,498.6 610.9,496.2M610.9,566.5 616.9,568.4 626.9,569.3 630.9,570.1 634.9,572.1 642.9,577.3 650.9,584 656.9,587.7 662.9,589.8 676.9,592.7 701,591.5 725,588.9 730.8,587.3 743,582.4 749,580.9 761,579.2 779,578M779,754.2 771,762.8 769.5,765.1 767,770.6 761.8,785.1 757,791.4 745,799.2 739,802 729,803.8 719,806.7 715,807.2 690.9,804.3 674.9,799.7 668.9,796.1 654.9,785.4 644.7,775.1 628.9,763.1 624.9,760.8 618.9,758.2 614.9,757.1 610.9,756.9M685,29.8 684.4,37.8 683.3,41.8 681.4,45.8 672.9,57.7 668.9,62.1 666.9,63.2 664.9,62.2 662.9,59.5 658.2,49.8 654.9,38.6 654.2,33.8 654.4,29.8M779,217.1 727,219.9 719,219.8 705,218.5 695,215.8 686.9,212 677.5,205.6 670.9,199.1 668.9,195.8 662.9,181.6 658.8,169.7 653.6,157.7 651.5,149.7 650.3,141.7 650.9,131.7 652.9,124.1 660,103.7 661.2,95.7 661.7,83.8 662.9,79 664.9,75.5 666.9,75.1 668.9,77.7 670.9,82.3 673.8,95.7 675.9,101.7 682.1,113.7 692.9,129.3 703,146 707,151.1 711,154.8 717,158.7 727,162.2 759,168.4 779,170.7M610.9,286.6 622.4,287.6 630.9,289.1 636.9,291.7 641.9,295.6 646.7,301.6 653.5,313.5 659.1,321.5 664.9,327.8 676.5,337.5 681.4,343.5 685.1,351.5 685.9,355.5 686.3,361.5 684.7,371.5 682.9,376.4 680.3,381.5 673,391.5 659.7,405.5 653.3,413.5 650.9,417.5 644.9,432.8 641.8,437.4 636.9,440.3 626.9,443 620.9,443.2 610.9,441.8M659,455.4 662.9,455.2 666.9,456.6 670.9,459.2 674.2,463.4 675.7,467.4 676,473.4 674.1,477.4 670.9,479.9 666.9,480.7 664.9,480 661.9,477.4 659.1,473.4 656.8,467.4 656,461.4 656.8,457.4ZM610.9,594.3 613.9,595.3 615.6,597.3 616.2,599.3 616.2,601.3 615,605.3 610.9,610.6M718.1,753.2 721,751.6 723,751.5 726.4,753.2 727.7,755.2 728.2,757.2 727.9,759.2 726.7,761.1 725,762.7 723,763.5 720.3,763.1 717.6,761.1 716.5,759.2 716.2,757.2 716.7,755.2Z" fill="none" stroke="#262320" stroke-width="1.65" stroke-linejoin="round"/>
<circle cx="723.6" cy="650.5" r="1.8" fill="none" stroke="#8a9090" stroke-width="1"/><path d="M779,699.5l-3.5,5l3.5,4.5M779,83.5l-2.5,3l2.5,3" fill="none" stroke="#262320" stroke-width="1.6"/>
<path d="M618.4,562L625.3,503.2M619.7,510.3L625.3,503.2L629.2,511.4M762.6,760.7L815.2,793.2M811.2,785.1L815.2,793.2L806.2,793.2" fill="none" stroke="#f4f4f4" stroke-opacity=".8" stroke-width="1.3"/><path d="M642.4,45.2L611.9,44.3M619.4,49.3L611.9,44.3L619.7,39.7M690.5,45.2L718.1,54.8M712.4,47.8L718.1,54.8L709.3,56.8M642.4,85L613.4,87.9M621.5,91.9L613.4,87.9L620.5,82.4M690.5,85L719.6,81M711.4,77.3L719.6,81L712.7,86.7M642.4,124.7L605.6,120.5M612.6,126.1L605.6,120.5L613.7,116.6M642.4,164.4L603.6,177.4M612.3,179.5L603.6,177.4L609.3,170.5M666.5,204.2L637.2,218.7M646.1,219.6L637.2,218.7L641.9,211.1M714.5,243.9L726.7,273.5M728.2,264.6L726.7,273.5L719.3,268.2M738.5,243.9L729.2,271.8M736.2,266.1L729.2,271.8L727.1,263.1M618.4,283.7L619.8,238.5M614.8,246L619.8,238.5L624.3,246.3M618.4,482.4L609.9,528.1M616,521.5L609.9,528.1L606.6,519.7M642.4,482.4L610.8,519M619.4,516.4L610.8,519L612.2,510.1M666.5,482.4L658.8,520.6M665,514.1L658.8,520.6L655.6,512.2M690.5,482.4L726.8,512.9M724,504.3L726.8,512.9L717.9,511.6M714.5,482.4L719.4,512.6M722.9,504.3L719.4,512.6L713.4,505.8M738.5,482.4L755.3,508.5M755.2,499.5L755.3,508.5L747.2,504.7M642.4,522.2L624,559.9M631.6,555.1L624,559.9L623.1,550.9M666.5,522.2L650.2,568.4M657.2,562.8L650.2,568.4L648.3,559.6M690.5,522.2L677.9,554.2M685.2,548.8L677.9,554.2L676.3,545.3M762.6,522.2L785.4,546.3M783.6,537.5L785.4,546.3L776.7,544M642.4,562L649.4,523.2M643.3,529.9L649.4,523.2L652.7,531.5M762.6,562L773.9,533.4M766.6,538.8L773.9,533.4L775.5,542.3M618.4,601.7L658,606M650.9,600.4L658,606L649.9,609.9M642.4,601.7L677.9,571.4M669,572.7L677.9,571.4L675.2,580M690.5,601.7L686.1,571.6M682.5,579.9L686.1,571.6L691.9,578.5M714.5,601.7L709.7,567M706,575.2L709.7,567L715.5,573.9M738.5,601.7L729.5,565.3M726.7,573.9L729.5,565.3L735.9,571.5M762.6,601.7L757.6,569.2M754,577.5L757.6,569.2L763.5,576M618.4,681.2L643.8,666.7M634.8,666.4L643.8,666.7L639.5,674.7M642.4,681.2L677.9,681.6M670.3,676.7L677.9,681.6L670.2,686.3M618.4,721L639.5,759.7M640.1,750.8L639.5,759.7L631.7,755.3M642.4,721L663.6,741.3M661.4,732.5L663.6,741.3L654.8,739.4M690.5,721L668.6,697.9M670.4,706.7L668.6,697.9L677.3,700.1M642.4,760.7L625.8,785.7M634,782L625.8,785.7L626.1,776.7M690.5,760.7L660.6,769.1M669.2,771.6L660.6,769.1L666.6,762.4M714.5,760.7L683.8,777.1M692.8,777.7L683.8,777.1L688.3,769.3M738.5,760.7L774,775.5M768.8,768.1L774,775.5L765.1,776.9M690.5,800.5L682.1,836M688.5,829.7L682.1,836L679.2,827.5M714.5,800.5L717.5,840.8M721.7,832.8L717.5,840.8L712.2,833.5M738.5,800.5L750,838.9M752.4,830.3L750,838.9L743.2,833" fill="none" stroke="#5c5654" stroke-opacity=".7" stroke-width="1.1"/><path d="M618.4,45.2L592.7,41.4M599.6,47.3L592.7,41.4L601,37.8M666.5,45.2L658.6,58.7M664.4,55.6L658.6,58.7L658.4,52.1M714.5,45.2L735.1,56.7M730.7,48.8L735.1,56.7L726.1,57.1M738.5,45.2L754.8,46M749.2,42.1L754.8,46L748.8,49.3M762.6,45.2L758.1,27M755.7,34.4L758.1,27L763.8,32.5M618.4,85L593.9,91.3M602.5,94L593.9,91.3L600.1,84.7M666.5,85L663.8,71.6M661.8,77L663.8,71.6L667.7,75.8M714.5,85L736,82.4M727.8,78.6L736,82.4L729,88.1M738.5,85L718.4,81.6M724.9,87.3L718.4,81.6L726.3,78.3M762.6,85L737.8,77.2M743.7,84L737.8,77.2L746.5,74.9M618.4,124.7L589.7,128.8M597.9,132.5L589.7,128.8L596.6,123M666.5,124.7L657.6,103.9M656.2,112.8L657.6,103.9L665,109.1M690.5,124.7L713.9,107.9M704.9,108.5L713.9,107.9L710.5,116.2M714.5,124.7L735.5,109.8M726.5,110.3L735.5,109.8L732,118.1M738.5,124.7L730.1,106.5M729.1,114.9L730.1,106.5L737.2,111.1M762.6,124.7L747,124M752.4,127.7L747,124L752.7,120.8M618.4,164.4L594.5,170.4M603.1,173.2L594.5,170.4L600.8,163.9M666.5,164.4L642.9,177.2M651.9,177.8L642.9,177.2L647.3,169.4M690.5,164.4L705.8,155.8M698.4,155.4L705.8,155.8L702.3,162.3M714.5,164.4L725.7,140.9M718.1,145.7L725.7,140.9L726.8,149.8M738.5,164.4L742.9,139.1M736.9,145.8L742.9,139.1L746.3,147.4M762.6,164.4L765.6,141.2M759.9,148.1L765.6,141.2L769.3,149.4M618.4,204.2L593.2,202.9M600.6,208L593.2,202.9L601.1,198.5M642.4,204.2L618.2,199.5M624.8,205.6L618.2,199.5L626.6,196.3M690.5,204.2L678.6,225.3M686.5,220.9L678.6,225.3L678.2,216.3M714.5,204.2L703.3,226.1M711.1,221.4L703.3,226.1L702.6,217.1M738.5,204.2L749.1,223.8M749.7,214.9L749.1,223.8L741.3,219.4M762.6,204.2L769.5,221M770.8,213.5L769.5,221L763.3,216.6M618.4,243.9L594.4,240.9M601.3,246.6L594.4,240.9L602.5,237.1M642.4,243.9L624.7,233.8M628.7,241.3L624.7,233.8L633.3,233.4M666.5,243.9L647.4,249.3M655.4,251.7L647.4,249.3L653,243.2M690.5,243.9L695.4,264.5M698.2,256.1L695.4,264.5L689.1,258.3M762.6,243.9L757,265.6M763.5,259.5L757,265.6L754.3,257.1M642.4,283.7L653.3,259M645.9,264L653.3,259L654.6,267.9M666.5,283.7L681.1,272M673.3,272.9L681.1,272L678.5,279.4M690.5,283.7L700.3,269.7M693.7,272.5L700.3,269.7L699.9,276.9M714.5,283.7L719.2,261.8M712.9,268.2L719.2,261.8L722.3,270.2M738.5,283.7L738.8,263.2M734.1,270.4L738.8,263.2L743.3,270.5M762.6,283.7L754,273M754.7,278.7L754,273L759.4,274.9M618.4,323.4L644.2,329.9M637.9,323.5L644.2,329.9L635.6,332.7M642.4,323.4L668.3,312.1M659.4,310.8L668.3,312.1L663.2,319.5M666.5,323.4L684.6,301.1M676.1,304L684.6,301.1L683.5,310M690.5,323.4L698.2,306.4M691.7,310.8L698.2,306.4L699.3,314.2M714.5,323.4L726.2,334.6M724.5,328L726.2,334.6L719.6,333.2M738.5,323.4L756.9,337.9M753.8,329.4L756.9,337.9L747.9,336.9M762.6,323.4L774.7,342.6M774.6,333.6L774.7,342.6L766.6,338.7M618.4,363.2L622,378.9M624.2,372.5L622,378.9L617.2,374.1M642.4,363.2L656.9,365.9M652.4,361.7L656.9,365.9L651.2,368.2M666.5,363.2L687.1,358.3M678.6,355.4L687.1,358.3L680.8,364.6M690.5,363.2L716.6,365.9M709.5,360.4L716.6,365.9L708.5,369.9M714.5,363.2L740.5,369.7M734.3,363.2L740.5,369.7L732,372.5M738.5,363.2L759.7,370.4M754,363.4L759.7,370.4L750.9,372.5M762.6,363.2L781,370.7M776.1,363.9L781,370.7L772.8,372.1M618.4,402.9L632.5,411.8M629.4,405.5L632.5,411.8L625.5,411.8M642.4,402.9L661.4,418.6M658.6,410.1L661.4,418.6L652.5,417.4M666.5,402.9L684,420.2M681.9,411.5L684,420.2L675.2,418.3M690.5,402.9L707.6,413.1M703.7,405.7L707.6,413.1L699.2,413.3M714.5,402.9L735.8,398.5M727.4,395.4L735.8,398.5L729.3,404.7M738.5,402.9L759.1,395.7M750.3,393.7L759.1,395.7L753.5,402.7M762.6,402.9L781.6,395M773,393.6L781.6,395L776.6,402.1M618.4,442.7L615.5,464.9M621.2,458L615.5,464.9L611.8,456.7M642.4,442.7L647.8,457M649.1,450.7L647.8,457L642.7,453.1M666.5,442.7L679.7,427.5M671.6,430L679.7,427.5L678.4,435.9M690.5,442.7L710.5,436.4M701.9,434.2L710.5,436.4L704.7,443.1M714.5,442.7L733.7,453.3M729.3,445.4L733.7,453.3L724.7,453.8M738.5,442.7L756.7,456.2M753.5,447.8L756.7,456.2L747.8,455.5M762.6,442.7L773.4,453.6M772,447.3L773.4,453.6L767.1,452.1M762.6,482.4L762,509.4M766.9,501.9L762,509.4L757.4,501.7M618.4,522.2L623.6,546.4M626.6,538L623.6,546.4L617.3,540M714.5,522.2L713,542M717.9,535.3L713,542L709.1,534.6M738.5,522.2L763.6,534.5M758.9,526.9L763.6,534.5L754.7,535.5M666.5,562L666,535.9M661.4,543.6L666,535.9L670.9,543.4M690.5,562L674.8,548.3M677.3,556.7L674.8,548.3L683.4,549.7M714.5,562L700.1,567.8M706.5,568.9L700.1,567.8L703.9,562.5M738.5,562L751.5,549.6M744.1,551.1L751.5,549.6L749.6,556.9M666.5,601.7L672.4,574M666.1,580.5L672.4,574L675.4,582.5M618.4,641.5L638.9,650.1M633.7,642.7L638.9,650.1L630,651.5M642.4,641.5L667.5,644M660.4,638.5L667.5,644L659.4,648M666.5,641.5L677.7,656.3M677,648.5L677.7,656.3L670.4,653.5M690.5,641.5L665.9,635.8M672.2,642.2L665.9,635.8L674.4,632.9M714.5,641.5L691.4,626.2M695.2,634.4L691.4,626.2L700.4,626.4M738.5,641.5L739.7,623.3M735.3,629.5L739.7,623.3L743.3,630M762.6,641.5L779.2,631.8M771.1,631.6L779.2,631.8L775.4,638.9M666.5,681.2L677.5,695.6M676.8,688L677.5,695.6L670.4,692.9M690.5,681.2L668.8,695.8M677.8,695.5L668.8,695.8L672.5,687.6M714.5,681.2L695.4,698.4M704.3,696.9L695.4,698.4L697.9,689.8M738.5,681.2L720.1,693M729.1,692.9L720.1,693L724,684.8M762.6,681.2L755.1,663.1M753.7,671.2L755.1,663.1L761.8,667.9M666.5,721L662.3,700.3M659.2,708.6L662.3,700.3L668.4,706.7M714.5,721L701.8,697.3M701.2,706.3L701.8,697.3L709.6,701.8M738.5,721L725.1,705.8M726.5,714.2L725.1,705.8L733.2,708.2M762.6,721L762.8,741.5M767.3,734.1L762.8,741.5L758.2,734.3M618.4,760.7L609.8,787.1M616.7,781.3L609.8,787.1L607.6,778.3M666.5,760.7L643.4,769M652.2,770.9L643.4,769L649,761.9M618.4,800.5L614.5,815.9M619.3,811.3L614.5,815.9L612.4,809.5M642.4,800.5L628.6,812.1M636.1,811L628.6,812.1L630.9,804.8M666.5,800.5L652,819.4M660.5,816.2L652,819.4L652.9,810.4M762.6,800.5L787.2,808.9M781.6,802L787.2,808.9L778.5,811" fill="none" stroke="#2e2a27" stroke-opacity=".88" stroke-width="1.15"/>
</g>
<text transform="translate(695.5,132) rotate(53)" text-anchor="middle" dy=".35em" class="lb" font-size="19" stroke="#CDE5E4">1E-06</text>
<text transform="translate(707.8,359.7) rotate(-80)" text-anchor="middle" dy=".35em" class="lb" font-size="18" stroke="#E4EEE2">5E-07</text>
<text transform="translate(706.5,468) rotate(28)" text-anchor="middle" dy=".35em" class="lb" font-size="20" stroke="#F2E8C2">0</text>
<text transform="translate(700.7,737.5) rotate(38)" text-anchor="middle" dy=".35em" class="lb" font-size="20" stroke="#F2E8C2">0</text>
<rect x="610.9" y="29.8" width="168.1" height="787.3" fill="none" stroke="#4a4644" stroke-width="1.8"/>
<path d="M610.9,29.8v-9.8M610.9,817.1v9.8M666.9,29.8v-9.8M666.9,817.1v9.8M723,29.8v-9.8M723,817.1v9.8M779,29.8v-9.8M779,817.1v9.8M610.9,760.9h-10.5M779,760.9h10.5M610.9,648.4h-10.5M779,648.4h10.5M610.9,535.9h-10.5M779,535.9h10.5M610.9,423.4h-10.5M779,423.4h10.5M610.9,311h-10.5M779,311h10.5M610.9,198.5h-10.5M779,198.5h10.5M610.9,86h-10.5M779,86h10.5" stroke="#4a4644" stroke-width="1.8" fill="none"/>
<text transform="translate(591.3,773.1) scale(.95,1)" text-anchor="end" class="tk">2</text>
<text transform="translate(591.3,660.6) scale(.95,1)" text-anchor="end" class="tk">4</text>
<text transform="translate(591.3,548.1) scale(.95,1)" text-anchor="end" class="tk">6</text>
<text transform="translate(591.3,435.6) scale(.95,1)" text-anchor="end" class="tk">8</text>
<text transform="translate(591.3,323.2) scale(.95,1)" text-anchor="end" class="tk">10</text>
<text transform="translate(591.3,210.7) scale(.95,1)" text-anchor="end" class="tk">12</text>
<text transform="translate(591.3,98.2) scale(.95,1)" text-anchor="end" class="tk">14</text>
<text transform="translate(611.3,855.4) scale(.95,1)" text-anchor="middle" class="tk">1</text>
<text transform="translate(667.3,855.4) scale(.95,1)" text-anchor="middle" class="tk">2</text>
<text transform="translate(723.4,855.4) scale(.95,1)" text-anchor="middle" class="tk">3</text>
<text transform="translate(779.4,855.4) scale(.95,1)" text-anchor="middle" class="tk">4</text>
<text x="698" y="899.7" text-anchor="middle" class="ti">Line</text>
<text transform="translate(542.8,426.5) rotate(-90)" text-anchor="middle" class="ti">Row</text>
<text x="519.3" y="45" class="pl">(b)</text>
<rect x="854.2" y="661.7" width="33" height="37.9" fill="#BEC478"/>
<rect x="854.2" y="624.2" width="33" height="37.9" fill="#82BE86"/>
<rect x="854.2" y="586.7" width="33" height="37.9" fill="#6DB070"/>
<rect x="854.2" y="549.3" width="33" height="37.9" fill="#BDBB6C"/>
<rect x="854.2" y="511.8" width="33" height="37.9" fill="#E8B540"/>
<rect x="854.2" y="474.3" width="33" height="37.9" fill="#C4923A"/>
<rect x="854.2" y="436.8" width="33" height="37.9" fill="#D2B67E"/>
<rect x="854.2" y="399.3" width="33" height="37.9" fill="#F5DBA5"/>
<rect x="854.2" y="361.8" width="33" height="37.9" fill="#EFF3E1"/>
<rect x="854.2" y="324.3" width="33" height="37.9" fill="#D8EBE8"/>
<rect x="854.2" y="286.9" width="33" height="37.9" fill="#C0E0E0"/>
<rect x="854.2" y="249.4" width="33" height="37.9" fill="#7FC4CC"/>
<rect x="854.2" y="211.9" width="33" height="37.9" fill="#4E8AC6"/>
<rect x="854.2" y="174.4" width="33" height="37.9" fill="#4A579C"/>
<path d="M854.2,661.7h33M854.2,624.2h33M854.2,586.7h33M854.2,549.3h33M854.2,474.3h33M854.2,436.8h33M854.2,399.3h33M854.2,361.8h33M854.2,286.9h33M854.2,249.4h33M854.2,211.9h33" stroke="#b9b9b9" stroke-opacity=".8" stroke-width="1" fill="none"/>
<path d="M854.2,511.8h33M854.2,324.3h33" stroke="#222" stroke-width="1.5" fill="none"/>
<rect x="854.2" y="174.4" width="33" height="524.8" fill="none" stroke="#3c3a38" stroke-width="1.5"/>
<text x="950.6" y="707.7" text-anchor="end" class="cl">−40</text>
<text x="950.6" y="670.4" text-anchor="end" class="cl">−35</text>
<text x="950.6" y="633" text-anchor="end" class="cl">−30</text>
<text x="950.6" y="595.7" text-anchor="end" class="cl">−25</text>
<text x="950.6" y="558.4" text-anchor="end" class="cl">−20</text>
<text x="950.6" y="521" text-anchor="end" class="cl">−15</text>
<text x="950.6" y="483.7" text-anchor="end" class="cl">−10</text>
<text x="950.6" y="446.4" text-anchor="end" class="cl">−5</text>
<text x="950.6" y="409" text-anchor="end" class="cl">0</text>
<text x="950.6" y="371.7" text-anchor="end" class="cl">5</text>
<text x="950.6" y="334.3" text-anchor="end" class="cl">10</text>
<text x="950.6" y="297" text-anchor="end" class="cl">15</text>
<text x="950.6" y="259.7" text-anchor="end" class="cl">20</text>
<text x="950.6" y="222.3" text-anchor="end" class="cl">25</text>
<text x="950.6" y="185" text-anchor="end" class="cl">30</text>
<text transform="translate(828,426.5) rotate(-90)" text-anchor="middle" class="ti" style="font-size:29.2px">Current / 10<tspan dy="-11" font-size="17">−7</tspan><tspan dy="11"> A</tspan></text>
</g>
<g id="panel-c">
<clipPath id="cpc"><rect x="1124.6" y="28.6" width="167.8" height="789.2"/></clipPath>
<g clip-path="url(#cpc)">
<rect x="1123.6" y="27.6" width="169.8" height="791.2" fill="#BEC478"/>
<path d="M1124.6,28.6 1292.4,28.6 1292.4,817.8 1124.6,817.8Z" fill="#9BC796" fill-rule="evenodd"/>
<path d="M1124.6,28.6 1292.4,28.6 1292.4,817.8 1124.6,817.8 1124.6,247 1126.6,247.8 1130.6,247.8 1140.6,244.7 1144.6,244.4 1148.6,245.3 1176.5,254.7 1180.5,254.9 1182.5,254.2 1185.1,252.4 1189.4,246.4 1194.5,234.9 1204.8,220.4 1207.7,214.4 1209.7,206.4 1211,192.4 1213.9,178.4 1214.9,164.5 1214.2,154.5 1211.1,140.5 1207.9,134.5 1201.7,128.5 1198,126.5 1192.5,124.6 1182.5,123.3 1178.5,123.8 1174.5,125 1168.5,127.8 1164.6,130.4 1160.6,134.3 1159.3,136.5 1158,140.5 1157.7,144.5 1159.4,166.5 1164.2,178.4 1166,184.4 1166.2,190.4 1165.2,194.4 1163.1,198.4 1154.6,207.5 1152.5,210.4 1152.1,212.4 1152.3,220.4 1151.7,224.4 1149.8,228.4 1146.6,231.7 1144.6,232.3 1142.6,232.1 1140.6,231.1 1134.6,225 1132.6,223.7 1130.6,223.8 1128.6,224.8 1124.6,227.8ZM1178.5,635.9 1172.5,637 1166.5,639 1162.6,641.6 1160.7,644 1159.9,648 1160.5,652 1162.1,656 1164.6,659.9 1168.9,664 1182.5,674.4 1192.5,680.3 1198.5,682 1204.5,682.5 1208.5,681.9 1212,679.9 1213.7,677.9 1215.5,673.9 1216.2,669.9 1215.9,666 1214.2,660 1211.1,652 1206.4,644 1202.5,639.9 1198.5,637.7 1190.5,636.1Z" fill="#79B575" fill-rule="evenodd"/>
<path d="M1124.6,28.6 1142.3,28.6 1144.8,34.6 1148.6,39.9 1152.6,42.4 1159.2,44.6 1192.5,51.5 1216.5,58.2 1236.5,58.2 1252.4,60.5 1260.4,59.5 1283.7,54.6 1287.3,52.6 1286.9,50.6 1280.4,44.2 1276.4,39.4 1273.4,34.6 1270.6,28.6 1292.4,28.6 1292.4,205.2 1284.4,205.4 1270.4,204.8 1254.4,206.5 1250.5,206 1247.6,204.4 1246.7,202.4 1248.3,192.4 1247.8,178.4 1253.5,158.5 1254.7,148.5 1254.2,142.5 1253.2,138.5 1250.7,132.5 1247.5,126.5 1243.2,120.5 1239.4,116.5 1234.1,112.5 1228.5,109.9 1216.5,106.3 1198.5,102.9 1192.5,102.2 1184.5,102.3 1176.5,103.3 1170.5,104.7 1148.1,112.5 1140.6,117.1 1137.2,120.5 1134.6,124.5 1132.9,128.5 1132,132.5 1131.8,136.5 1132.6,142.5 1136.1,152.5 1147.9,178.4 1149.5,184.4 1149.7,190.4 1147.1,198.4 1140.4,210.4 1138.1,212.4 1130.6,214.6 1124.6,218.4ZM1214.8,246.4 1222.5,245.8 1226.5,246.5 1228.5,247.5 1233.2,252.4 1236.5,254.6 1240.5,254.4 1254.4,251.5 1262.4,251.9 1268.4,253.9 1282.4,261.5 1286.4,262.5 1292.4,262.7 1292.4,817.8 1124.6,817.8 1124.6,262 1148.6,264.1 1172.5,262.9 1182.5,261.8 1186.5,260.7 1190.5,258.7 1204.5,249.6 1210.5,247.3ZM1162.6,621.9 1154.6,623.6 1148.6,625.7 1142.6,629.2 1138.6,632.7 1136.5,636 1135.6,640 1136.3,644 1139.3,650 1144,656 1151.4,664 1172.7,683.9 1184.5,699.4 1188.5,703 1196.8,707.9 1210.5,713.5 1218.5,715 1220.5,715 1223.5,713.9 1225.4,711.9 1230.3,703.9 1232.5,701.4 1236.5,698.7 1244.5,694.8 1246.5,691.9 1247.5,685.9 1246.7,675.9 1244.5,666.8 1241.2,660 1229.1,646 1221.3,638 1214,632 1206.5,627.4 1197.7,624 1186.5,621.8 1174.5,621.1Z" fill="#8CBA84" fill-rule="evenodd"/>
<path d="M1124.6,166.5 1124.6,164.6 1130.6,172.1 1134.6,178 1137.6,184.4 1138.7,190.4 1138.4,194.4 1137.3,198.4 1134.3,204.4 1130.6,208.2 1124.6,210.6ZM1213,256.4 1222.5,255.2 1226.5,255.7 1233,258.4 1236.5,259.1 1250.5,258.9 1258.4,259.6 1266.4,261.9 1284.4,270.4 1288.4,271.5 1292.4,271.9 1292.4,817.8 1124.6,817.8 1124.6,657.2 1144.6,670.6 1160.1,683.9 1167.2,691.9 1176.8,705.9 1182.5,711.8 1188.5,716.1 1196.5,720.6 1204.5,724.2 1212.5,726.7 1218.5,727.4 1224.5,726.9 1230.5,724.6 1234.5,721.9 1242.5,713.5 1250.5,706.4 1254.2,701.9 1257.1,695.9 1259.2,687.9 1259.9,677.9 1258.8,668 1256,658 1252,650 1246.5,642.6 1239.7,636 1231.5,630 1218.2,622 1208.5,617.2 1198.5,613.8 1188.6,612 1174.5,610.7 1152.6,610.5 1140.6,611.2 1130.6,613.1 1124.6,615.7 1124.6,274.3 1140.6,276.5 1146.6,276.4 1152.6,275.4 1186.5,267.7 1192.5,265.3 1204.5,259Z" fill="#BDBB6C" fill-rule="evenodd"/>
<path d="M1124.6,192.4 1124.6,192.3 1124.7,194.4 1124.6,194.8ZM1212.1,264.4 1218.5,263.1 1224.5,262.6 1242.5,263.7 1256.4,265.5 1264.4,267.7 1284.4,276.6 1292.4,278.7 1292.4,817.8 1250.5,817.8 1236.5,807.2 1230.5,804.6 1224.5,803 1208.5,801.8 1190.5,803.3 1180.5,803.1 1152.6,800.4 1124.6,795.1 1124.6,670.3 1140.6,679.1 1154.6,690.5 1158.6,694.9 1166.3,705.9 1174.5,716.4 1182.5,723.8 1190.5,729.1 1200.5,734.4 1208.5,737.4 1216.5,739 1226.5,738.6 1234.5,736.3 1242.5,731.5 1252.4,722.1 1258.4,715.2 1264,705.9 1269.6,689.9 1271.4,681.9 1272.1,673.9 1272,662 1270.7,654 1267.9,644 1264.6,638 1261.3,634 1254.3,628 1246.5,622.5 1210.5,607.1 1198.5,603.8 1170.5,601.2 1158.6,600.9 1146.6,599.8 1136.6,600.1 1124.6,601.7 1124.6,289.7 1150.6,285.3 1186.5,274.4 1204.5,266.9Z" fill="#E4BB3E" fill-rule="evenodd"/>
<path d="M1215.1,270.4 1222.5,269 1230.5,268.6 1240.5,268.9 1252.4,270.5 1264.4,274 1284.4,282.7 1292.4,285.6 1292.4,606.9 1286.4,607.1 1272.4,610 1258.4,610.1 1252.4,609.2 1236.5,602.9 1214.5,595.8 1204.5,593.7 1196.5,593.3 1180.5,593.9 1168.5,592.2 1144.6,590.6 1132.6,591.1 1124.6,592.9 1124.6,297.5 1134.6,296 1154.6,291.1 1174.5,284.8 1192.5,278.5 1206.5,272.9ZM1291.8,662 1292.4,660.7 1292.4,817.8 1274.6,817.8 1273.5,813.8 1271.3,809.8 1244.5,781.8 1240.3,775.8 1239.2,771.8 1241.5,763.9 1242.5,755.9 1243.7,751.9 1262.4,729.2 1272.4,714.1 1279.1,705.9 1281.7,701.9 1283.4,687.9 1287.8,671.9ZM1124.6,683.9 1124.6,683.4 1132.6,687.3 1140.6,692.3 1145.2,695.9 1150.3,701.9 1160.6,719.6 1166.8,727.9 1172.5,733.1 1183.1,739.9 1197.4,751.9 1201.4,755.9 1205.7,761.9 1206.6,765.9 1205.8,767.9 1202.1,771.8 1196.3,775.8 1190.8,777.8 1180.5,779.2 1172.5,778.7 1162.9,775.8 1154.6,772.4 1141.2,763.9 1130.6,756.1 1126.6,754.7 1124.6,754.7ZM1222.2,767.9 1222.5,767.8 1222.6,767.9 1222.5,768Z" fill="#E5953C" fill-rule="evenodd"/>
<path d="M1229.1,274.4 1244.5,275 1256.4,277.4 1266.4,281 1292.4,292.7 1292.4,344.5 1289.5,348.3 1286.7,354.3 1285.1,360.3 1284.9,364.3 1286.4,369.9 1292.4,385.2 1292.4,581.8 1280.4,585.3 1270.4,586.3 1262.4,585.5 1250.5,583.1 1228.5,583.7 1206.5,580.7 1182.5,583.4 1162.6,580.5 1142.6,582.9 1124.6,581.8 1124.6,306.1 1136.6,303.1 1162.6,295 1210.5,277.7 1220.5,275.3ZM1124.6,695.9 1124.6,694.8 1130.6,697.4 1134.6,699.9 1136.7,701.9 1140.2,707.9 1141.2,715.9 1139.9,721.9 1137.2,725.9 1130.9,731.9 1124.6,735.5ZM1290.4,713.9 1292.4,712.8 1292.4,817.8 1286.2,817.8 1284.4,815.5 1279.5,805.8 1271.4,793.8 1263.1,779.8 1260.9,773.8 1260,765.9 1260.8,759.9 1262.8,753.9 1269.6,741.9 1277.6,725.9 1282.4,719.3 1286.4,716.2Z" fill="#B8963F" fill-rule="evenodd"/>
<path d="M1225.2,280.3 1238.5,280.2 1246.5,281.1 1252.4,282.4 1262.4,286 1282.4,295.3 1292.4,299.2 1292.4,333.9 1286.4,339.2 1282.1,346.3 1279.6,354.3 1278.4,364.3 1279.6,374.2 1284.6,394.2 1285.8,402.2 1285.9,434.2 1286.4,441.7 1288.5,448.2 1292.4,453.2 1292.4,571.9 1280.4,574.3 1274.4,574.6 1268.4,573.8 1250.5,568.9 1244.5,568.8 1226.5,570.6 1206.5,569.3 1182.5,573 1160.6,572.2 1150.6,575.3 1142.6,576.7 1136.6,576.8 1124.6,575.3 1124.6,315.8 1184.5,292.7 1206.5,284.8 1216.5,281.9ZM1124.6,707.9 1124.6,706.9 1126.6,707.5 1128.6,709 1130.1,711.9 1130.3,713.9 1128.6,717.9 1124.6,721.2ZM1291.7,723.9 1292.4,723.3 1292.4,807.3 1285.5,799.8 1280.3,791.8 1278.7,787.8 1277,779.8 1272.4,770.1 1271.8,765.9 1272.6,759.9 1276.4,748.5 1282.4,738.5 1286.7,729.9Z" fill="#D2B67E" fill-rule="evenodd"/>
<path d="M1224,286.3 1230.5,285.8 1238.5,286 1244.5,286.7 1250.5,288.2 1260.3,292.3 1276.4,301.3 1292.4,306.6 1292.4,321.3 1285.8,326.3 1282.4,330.7 1276.4,344.8 1273.6,358.3 1272.9,366.3 1273.1,376.2 1274,386.2 1276.1,398.2 1276.4,408.2 1275.1,428.2 1271.8,446.2 1270.7,460.2 1270.8,464.2 1271.8,468.2 1274.4,471.5 1280.5,474.1 1292.4,475.6 1292.4,566.1 1280.4,567.2 1272.4,565.6 1254.3,556.1 1242.5,548.4 1240.5,547.6 1238.5,548 1231.4,554.1 1227.3,556.1 1214.5,557.3 1200.5,559.7 1180.5,564.6 1162.6,566.4 1148.6,570.4 1142.6,571.6 1136.6,571.9 1124.6,571.2 1124.6,322.9 1132.6,320.7 1146.6,315.1 1190,296.3 1210.5,289.3ZM1292.1,743.9 1292.4,742.8 1292.4,751.2 1291.3,749.9 1291.2,747.9ZM1291.4,771.8 1292.4,771.3 1292.4,792.7 1288.9,787.8 1287.6,783.8 1288.7,775.8 1289.5,773.8Z" fill="#F2D7A2" fill-rule="evenodd"/>
<path d="M1216.6,294.3 1226.5,292.7 1234.5,292.5 1244.5,293.6 1250.5,295.8 1258.4,300.3 1263.3,304.3 1268.5,310.3 1273.5,318.3 1274.3,322.3 1274.1,328.3 1268.4,358.3 1267.5,366.3 1266.5,388.2 1267.8,404.2 1267.5,418.2 1266.4,430.2 1264.4,439.2 1259.8,450.2 1254.5,458.2 1248.5,463.8 1235.1,474.1 1230.5,479.3 1228.3,484.1 1226.6,490.1 1225.2,508.1 1223.7,514.1 1216.5,527.9 1209.4,536.1 1191.7,550.1 1180.5,556.2 1144.6,566.2 1136.6,567.4 1124.6,567.6 1124.6,330.2 1134.6,327.9 1152.6,321.7 1180.5,308.1 1190.5,302.6 1208.6,296.3ZM1277.2,492.1 1282.4,491 1292.4,490.3 1292.4,560.5 1286.4,561.2 1280.4,560.3 1275.4,558.1 1268.4,553 1263.9,548.1 1261.7,544.1 1256.9,530.1 1256.3,524.1 1256.9,516.1 1258.3,510.1 1260.1,506.1 1264.4,500.1 1268.4,496.4 1272.4,494Z" fill="#F8EECC" fill-rule="evenodd"/>
<path d="M1220.2,302.3 1228.5,301.8 1238.5,302.2 1244.5,303.2 1248.5,304.7 1253.8,308.3 1258.4,313.4 1262.6,320.3 1264.8,326.3 1265.7,332.3 1265.4,342.3 1262.2,362.3 1260.4,378.2 1259.8,390.2 1260.4,406.2 1260.1,418.2 1259.3,426.2 1257.3,434.2 1253.5,442.2 1248.5,449 1243.1,454.2 1228.4,466.2 1224.5,470.2 1220.5,475.3 1215,486.1 1208.5,507.8 1205,516.1 1197.4,528.1 1186.5,540.6 1180.5,545.7 1174.5,549.4 1152.6,558.6 1138.6,562.1 1124.6,563 1124.6,338.9 1144.6,335 1156.6,331.3 1170.5,324.7 1198.5,308.6 1210.5,304.3ZM1285.9,500.1 1292.4,499.4 1292.4,554.2 1286.4,554.3 1282.4,553.4 1278.4,551.5 1273.9,548.1 1270.6,544.1 1268.5,540.1 1266.2,534.1 1265,528.1 1265,524.1 1265.9,518.1 1268.2,512.1 1270.4,508.7 1272.8,506.1 1276.4,503.4 1280.4,501.5Z" fill="#E2EEE4" fill-rule="evenodd"/>
<path d="M1213.6,314.3 1224.5,312.7 1242.5,313.6 1246.5,315.5 1250.5,319 1254.3,324.3 1256.4,329.5 1257.9,336.3 1258.2,344.3 1253.6,382.2 1253.1,418.2 1252.2,424.2 1250.5,430.1 1247.4,436.2 1242.8,442.2 1220.7,462.2 1215.1,468.2 1210.5,474.1 1203.5,486.1 1193.8,508.1 1188.7,518.1 1182.5,528.4 1176.3,536.1 1166.1,544.1 1150.6,552.5 1138.6,556.4 1132.6,557.4 1124.6,557.8 1124.6,347.6 1134.6,346.1 1150.6,345.1 1158.6,343.4 1166.5,340.9 1172.5,338.2 1178.5,334.8 1203.4,318.3 1208.5,315.9ZM1288.8,508.1 1292.4,507.8 1292.4,546.7 1288.4,546.7 1284.4,545.9 1280.4,544.1 1278.4,542.4 1274.5,536.1 1272.4,528.1 1272.6,524.1 1273.6,520.1 1276.9,514.1 1278.9,512.1 1282,510.1Z" fill="#D6EAE8" fill-rule="evenodd"/>
<path d="M1216.8,324.3 1222.5,322.9 1228.5,322.5 1234.5,323.2 1238.5,324.4 1241.7,326.3 1244.5,329 1246.6,332.3 1248.5,337.1 1249.4,342.3 1249.6,348.3 1246.3,390.2 1246.1,414.2 1245.5,420.2 1243.7,426.2 1240.5,431.9 1236.8,436.2 1211.2,460.2 1203.5,468.2 1196.8,476.1 1191.3,484.1 1182.8,498.1 1169.7,524.1 1162.2,534.1 1153,542.1 1142.8,548.1 1134.6,550.8 1124.6,552 1124.6,354.9 1134.6,354.3 1160.6,354.7 1166.5,354.2 1172.5,353 1180.5,349.4 1206.5,329.6 1212,326.3ZM1291.9,518.1 1292.4,518.1 1292.4,536.3 1290.4,536.2 1286.4,534.8 1284.4,532.9 1283,530.1 1282.7,526.1 1284.3,522.1 1286.2,520.1 1288.4,518.9Z" fill="#CEE6E8" fill-rule="evenodd"/>
<path d="M1226.4,334.3 1230.5,335.1 1234.3,338.3 1236.4,342.3 1237.7,348.3 1238.1,364.3 1239.1,376.2 1237.5,392.2 1237.5,414.2 1236.1,422.2 1233.4,426.2 1216.5,443.4 1202.5,455.6 1194.5,461.6 1176.5,473.4 1170.5,476.3 1166.6,477.3 1160.6,477.9 1154.6,477 1148.6,472.3 1141.9,464.2 1136.6,458.8 1124.6,449.6 1124.6,363.7 1130.6,363.3 1146.6,364.5 1162.6,367.6 1170.5,368.6 1176.5,368.6 1180.5,367.9 1184.5,365.9 1189.4,362.3 1203.6,348.3 1213.3,340.3 1220.5,336ZM1136.9,494.1 1142.6,493.4 1146.6,493.8 1148.6,494.5 1150.5,496.1 1151.9,498.1 1153.6,502.1 1154.7,508.1 1154.8,514.1 1153.9,520.1 1151.9,526.1 1149.9,530.1 1147,534.1 1143.1,538.1 1138.6,541.5 1134.6,543.7 1130.6,545 1124.6,545.6 1124.6,495.2Z" fill="#9DD0D0" fill-rule="evenodd"/>
<path d="M1206.8,376.2 1212.5,375.6 1216.5,377.2 1218.5,379.5 1219.7,382.2 1221.4,390.2 1223,410.2 1222.5,416.1 1220.6,420.2 1215.8,426.2 1212.5,432.2 1208.5,436.6 1200.5,442.8 1192.5,447.2 1186.5,449.2 1178.5,450.1 1170.5,449.6 1164.6,447.8 1158.6,444.4 1152.6,439.1 1146.9,432.2 1141.6,424.2 1138.7,418.2 1136.4,410.2 1134.8,398.2 1134.9,394.2 1136.6,389.8 1137.9,388.2 1140.6,386.4 1144.6,385.2 1150.6,384.6 1166.5,384.5 1178.5,383.4 1190.5,381.2ZM1124.6,516.1 1124.6,514.3 1128.6,515.2 1132.6,517 1135.5,520.1 1136.6,522.4 1137,526.1 1136.2,530.1 1132.6,535.4 1129,538.1 1124.6,539.4Z" fill="#52B2D0" fill-rule="evenodd"/>
<path d="M1173.4,404.2 1180.5,402.8 1186.5,403.2 1190.5,404.8 1192.5,406.4 1194.5,409.1 1196,414.2 1195.8,422.2 1194.2,426.2 1192.8,428.2 1188.5,431.7 1182.5,433.5 1176.5,433 1171,430.2 1167.4,426.2 1165.3,420.2 1165.1,416.2 1165.8,412.2 1168.5,407.5Z" fill="#4F7BBA" fill-rule="evenodd"/>
<path d="M1124.6,297.5 1134.6,296 1152.6,291.7 1188.5,280 1208.5,272.2 1216.5,270.1 1224.5,268.8 1240.5,268.9 1256.4,271.4 1264.4,274 1284.4,282.7 1292.4,285.6M1292.4,606.9 1286.4,607.1 1272.4,610 1258.4,610.1 1252.4,609.2 1236.5,602.9 1214.5,595.8 1204.5,593.7 1196.5,593.3 1180.5,593.9 1168.5,592.2 1144.6,590.6 1132.6,591.1 1124.6,592.9M1124.6,683.4 1132.6,687.3 1138.6,691 1146.6,697.3 1150.3,701.9 1160.8,719.9 1166.5,727.6 1172.5,733.1 1183.1,739.9 1199.6,753.9 1205.7,761.9 1206.6,765.9 1205.8,767.9 1202.1,771.8 1194.5,776.7 1184.5,778.9 1174.5,779.1 1162.9,775.8 1154.6,772.4 1141.2,763.9 1130.6,756.1 1126.6,754.7 1124.6,754.7M1222.2,767.9 1222.5,767.8 1222.6,767.9 1222.5,768ZM1274.6,817.8 1273.5,813.8 1271.3,809.8 1244.5,781.8 1240.3,775.8 1239.2,771.8 1241.5,763.9 1242.5,755.9 1243.7,751.9 1262.4,729.2 1272.4,714.1 1279.1,705.9 1281.7,701.9 1283.4,687.9 1288.4,670.2 1292.4,660.7M1124.6,306.1 1136.6,303.1 1162.6,295 1210.5,277.7 1218.5,275.7 1226.5,274.5 1234.5,274.3 1244.5,275 1256.4,277.4 1266.4,281 1292.4,292.7M1292.4,344.5 1289.5,348.3 1286.7,354.3 1285.1,360.3 1284.9,364.3 1286.4,369.9 1292.4,385.2M1292.4,581.8 1280.4,585.3 1270.4,586.3 1262.4,585.5 1250.5,583.1 1228.5,583.7 1206.5,580.7 1182.5,583.4 1162.6,580.5 1142.6,582.9 1124.6,581.8M1124.6,694.8 1132.6,698.5 1136.7,701.9 1140.2,707.9 1141.2,715.9 1139.9,721.9 1137.2,725.9 1130.9,731.9 1124.6,735.5M1286.2,817.8 1284.4,815.5 1279.5,805.8 1271.4,793.8 1263.1,779.8 1260.9,773.8 1260,765.9 1260.8,759.9 1262.8,753.9 1269.6,741.9 1278.4,724.5 1283.9,717.9 1292.4,712.8M1124.6,315.8 1184.5,292.7 1206.5,284.8 1216.5,281.9 1226.5,280.2 1240.5,280.3 1252.4,282.4 1262.4,286 1282.4,295.3 1292.4,299.2M1292.4,333.9 1286.4,339.2 1282.1,346.3 1279.6,354.3 1278.4,364.3 1279.6,374.2 1284.6,394.2 1285.8,402.2 1285.9,434.2 1286.4,441.7 1288.5,448.2 1292.4,453.2M1292.4,571.9 1280.4,574.3 1274.4,574.6 1268.4,573.8 1250.5,568.9 1244.5,568.8 1226.5,570.6 1206.5,569.3 1182.5,573 1160.6,572.2 1150.6,575.3 1142.6,576.7 1136.6,576.8 1124.6,575.3M1124.6,706.9 1126.6,707.5 1128.6,709 1130.1,711.9 1130.3,713.9 1128.6,717.9 1124.6,721.2M1292.4,807.3 1285.5,799.8 1280.3,791.8 1278.7,787.8 1277,779.8 1272.4,770.1 1271.8,765.9 1272.6,759.9 1276.7,747.9 1282.4,738.5 1286.7,729.9 1289.6,725.9 1292.4,723.3M1292.4,321.3 1285.8,326.3 1282.4,330.7 1276.4,344.8 1273.9,356.3 1273,364.3 1273.1,376.2 1274,386.2 1276.1,398.2 1276.4,408.2 1275.1,428.2 1271.8,446.2 1270.7,460.2 1270.8,464.2 1271.8,468.2 1274.4,471.5 1280.5,474.1 1292.4,475.6M1124.6,322.9 1132.6,320.7 1146.6,315.1 1190,296.3 1210.5,289.3 1226.5,286 1238.5,286 1244.5,286.7 1250.5,288.2 1260.3,292.3 1276.4,301.3 1292.4,306.6M1292.4,566.1 1280.4,567.2 1272.4,565.6 1254.3,556.1 1242.5,548.4 1240.5,547.6 1238.5,548 1231.4,554.1 1227.3,556.1 1214.5,557.3 1200.5,559.7 1180.5,564.6 1162.6,566.4 1148.6,570.4 1142.6,571.6 1136.6,571.9 1124.6,571.2M1292.4,751.2 1291.3,749.9 1291.2,747.9 1292.4,742.8M1292.4,792.7 1288.9,787.8 1287.6,783.8 1288.7,775.8 1290.4,772.6 1292.4,771.3M1124.6,338.9 1144.6,335 1156.6,331.3 1170.5,324.7 1199.1,308.3 1212.5,303.7 1224.5,301.9 1242.5,302.7 1248.5,304.7 1252.4,307.2 1257.6,312.3 1261.5,318.3 1264.4,325.1 1265.7,332.3 1265.3,344.3 1261.9,364.3 1260,382.2 1259.8,392.2 1260.4,410.2 1259.8,422.2 1257.9,432.2 1256.4,436.5 1253.5,442.2 1250.5,446.6 1246.5,451.1 1228.5,466.1 1221.3,474.1 1217.7,480.1 1215,486.1 1208.4,508.1 1204,518.1 1195.8,530.1 1185,542.1 1180,546.1 1174.5,549.4 1152.6,558.6 1138.6,562.1 1124.6,563M1292.4,554.2 1286.4,554.3 1282.4,553.4 1278.4,551.5 1273.9,548.1 1270.6,544.1 1267.6,538.1 1265.7,532.1 1264.9,526.1 1265.5,520.1 1267.3,514.1 1269.4,510.1 1272.4,506.5 1276.4,503.4 1280.4,501.5 1286.4,500 1292.4,499.4M1124.6,347.6 1134.6,346.1 1150.6,345.1 1158.6,343.4 1166.5,340.9 1172.5,338.2 1178.5,334.8 1204.5,317.7 1212.5,314.6 1222.5,312.8 1240.5,313.2 1246.5,315.5 1250.5,319 1254.4,324.7 1256.7,330.3 1258.1,338.3 1257.9,348.3 1255.3,366.3 1253.5,384.2 1253.1,418.2 1251.1,428.2 1247.4,436.2 1240.5,444.6 1218.8,464.2 1210.5,474.1 1203.5,486.1 1193.8,508.1 1188.7,518.1 1182.5,528.4 1176.3,536.1 1166.1,544.1 1150.6,552.5 1138.6,556.4 1132.6,557.4 1124.6,557.8M1292.4,546.7 1288.4,546.7 1284.4,545.9 1280.4,544.1 1278.4,542.4 1275.5,538.1 1273.8,534.1 1272.7,530.1 1272.4,526.1 1273,522.1 1274.4,518.2 1278.4,512.5 1284.4,509.2 1292.4,507.8M1124.6,354.9 1134.6,354.3 1160.6,354.7 1166.5,354.2 1172.5,353 1176.5,351.5 1182.5,348.1 1208.5,328.3 1216.5,324.4 1224.5,322.6 1230.5,322.6 1234.5,323.2 1238.5,324.4 1241.7,326.3 1244.5,329 1246.6,332.3 1248.5,337.1 1249.4,342.3 1249.5,350.3 1246.3,390.2 1246,416.2 1245,422.2 1242.5,428.8 1236.5,436.5 1211.2,460.2 1203.5,468.2 1196.8,476.1 1191.3,484.1 1182.8,498.1 1169.7,524.1 1162.2,534.1 1153,542.1 1142.8,548.1 1134.6,550.8 1124.6,552M1292.4,536.3 1288.4,535.8 1285.5,534.1 1283.8,532.1 1282.6,528.1 1283.2,524.1 1284.4,521.9 1286.2,520.1 1288.4,518.9 1292.4,518.1M1124.6,363.7 1130.6,363.3 1146.6,364.5 1162.6,367.6 1170.5,368.6 1176.5,368.6 1180.5,367.9 1184.5,365.9 1189.4,362.3 1203.6,348.3 1214.5,339.4 1222.5,335.2 1226.5,334.3 1228.5,334.4 1232.4,336.3 1234.3,338.3 1237,344.3 1237.8,350.3 1238.1,364.3 1239.1,376.2 1237.5,392.2 1237.4,416.2 1236.5,421 1235,424.2 1217.8,442.2 1204.5,453.9 1196.5,460.3 1176.5,473.4 1172.5,475.5 1166.6,477.3 1158.6,477.9 1154.6,477 1148.6,472.3 1141.9,464.2 1136.6,458.8 1124.6,449.6M1124.6,495.2 1142.6,493.4 1146.6,493.8 1148.6,494.5 1150.6,496.2 1152.9,500.1 1154.4,506.1 1154.9,512.1 1154.3,518.1 1152.7,524.1 1149.9,530.1 1147,534.1 1143.1,538.1 1136.6,542.7 1130.6,545 1124.6,545.6M1173.4,404.2 1180.5,402.8 1186.5,403.2 1190.5,404.8 1192.5,406.4 1194.5,409.1 1196,414.2 1195.8,422.2 1194.2,426.2 1192.8,428.2 1188.5,431.7 1182.5,433.5 1176.5,433 1171,430.2 1167.4,426.2 1165.3,420.2 1165.1,416.2 1165.8,412.2 1168.5,407.5Z" fill="none" stroke="#9aa2a2" stroke-opacity=".62" stroke-width="1.15"/>
<path d="M1124.6,247 1126.6,247.8 1130.6,247.8 1140.6,244.7 1144.6,244.4 1148.6,245.3 1162.6,249.8 1174.5,254.3 1178.5,255 1182.5,254.2 1185.1,252.4 1188.3,248.4 1194.5,234.9 1204.8,220.4 1207.7,214.4 1209.7,206.4 1211,192.4 1214.1,176.5 1214.8,160.5 1214.2,154.5 1212.3,144.5 1211.1,140.5 1209.2,136.5 1206.2,132.5 1202.5,129.1 1198,126.5 1192.2,124.5 1186.5,123.5 1180.5,123.4 1174.5,125 1168.5,127.8 1164.4,130.5 1160.6,134.3 1159.3,136.5 1158,140.5 1157.9,148.5 1159,156.5 1159.4,166.5 1164.2,178.4 1166,184.4 1166.2,190.4 1165.2,194.4 1163.1,198.4 1154.6,207.5 1152.5,210.4 1152.1,212.4 1152.3,220.4 1151.7,224.4 1149.8,228.4 1146.6,231.7 1144.6,232.3 1142.6,232.1 1140.6,231.1 1134.6,225 1132.6,223.7 1130.6,223.8 1128.6,224.8 1124.6,227.8M1178.5,635.9 1172.5,637 1166.5,639 1162.6,641.6 1160.7,644 1159.9,648 1160.5,652 1162.1,656 1164.6,659.9 1168.9,664 1182.5,674.4 1192.5,680.3 1198.5,682 1204.5,682.5 1208.5,681.9 1212,679.9 1213.7,677.9 1215.5,673.9 1216.2,669.9 1215.9,666 1214.2,660 1211.1,652 1206.4,644 1202.5,639.9 1198.5,637.7 1190.5,636.1ZM1142.3,28.6 1144.8,34.6 1148.6,39.9 1152.6,42.4 1156.6,43.9 1194.5,51.9 1216.5,58.2 1236.5,58.2 1252.4,60.5 1260.4,59.5 1283.7,54.6 1287.3,52.6 1286.9,50.6 1280.4,44.2 1276.4,39.4 1273.4,34.6 1270.6,28.6M1292.4,205.2 1284.4,205.4 1270.4,204.8 1254.4,206.5 1250.5,206 1247.6,204.4 1246.7,202.4 1248.3,192.4 1247.8,178.4 1253.5,158.5 1254.7,148.5 1254.2,142.5 1253.2,138.5 1250.7,132.5 1247.5,126.5 1243.2,120.5 1239.4,116.5 1234.1,112.5 1228.5,109.9 1216.5,106.3 1198.5,102.9 1192.5,102.2 1184.5,102.3 1176.5,103.3 1170.5,104.7 1148.1,112.5 1140.6,117.1 1137.2,120.5 1134.6,124.5 1132.9,128.5 1132,132.5 1131.8,136.5 1132.6,142.5 1136.1,152.5 1147.9,178.4 1149.5,184.4 1149.7,190.4 1147.1,198.4 1140.4,210.4 1138.1,212.4 1130.6,214.6 1124.6,218.4M1124.6,262 1148.6,264.1 1172.5,262.9 1182.5,261.8 1186.5,260.7 1190.5,258.7 1200.5,251.8 1206.5,248.7 1214.5,246.4 1222.5,245.8 1226.5,246.5 1228.5,247.5 1233.2,252.4 1236.5,254.6 1240.5,254.4 1254.4,251.5 1260.4,251.6 1268.4,253.9 1282.4,261.5 1286.4,262.5 1292.4,262.7M1162.6,621.9 1154.6,623.6 1148.6,625.7 1142.6,629.2 1138.6,632.7 1136.5,636 1135.6,640 1136.3,644 1139.3,650 1144,656 1151.4,664 1172.7,683.9 1184.5,699.4 1188.5,703 1196.8,707.9 1210.5,713.5 1218.5,715 1220.5,715 1223.5,713.9 1225.4,711.9 1230.3,703.9 1232.5,701.4 1236.5,698.7 1244.5,694.8 1246.5,691.9 1247.5,685.9 1246.7,675.9 1244.5,666.8 1241.2,660 1229.1,646 1221.3,638 1214,632 1206.5,627.4 1197.7,624 1186.5,621.8 1174.5,621.1ZM1124.6,164.6 1130.6,172.1 1134.8,178.4 1137.6,184.4 1138.7,190.4 1138.4,194.4 1137.3,198.4 1134.3,204.4 1130.6,208.2 1124.6,210.6M1124.6,274.3 1140.6,276.5 1150.6,275.8 1184.5,268.3 1192.5,265.3 1206.5,258.3 1214.5,256 1222.5,255.2 1226.5,255.7 1233,258.4 1236.5,259.1 1252.4,259 1260.4,260 1266.4,261.9 1284.4,270.4 1288.4,271.5 1292.4,271.9M1124.6,657.2 1144.6,670.6 1160.1,683.9 1167.2,691.9 1176.8,705.9 1182.5,711.8 1188.5,716.1 1196.5,720.6 1204.5,724.2 1210.5,726.2 1216.5,727.3 1222.5,727.2 1227.7,725.9 1232.5,723.4 1252.4,704.3 1256.4,697.9 1258.3,691.9 1259.8,681.9 1259.4,671.9 1257.4,662 1253.2,652 1247.7,644 1240.5,636.7 1231.5,630 1221.8,624 1210.5,618.1 1200.5,614.4 1190.5,612.3 1178.5,611 1166.5,610.4 1142.6,611 1132.6,612.5 1124.6,615.7" fill="none" stroke="#c9dcc0" stroke-opacity=".55" stroke-width="1"/>
<path d="M1124.6,192.3 1124.6,194.8M1124.6,289.7 1150.6,285.3 1186.5,274.4 1208.5,265.4 1214.5,263.8 1222.5,262.6 1242.5,263.7 1258.4,265.9 1266.4,268.5 1284.4,276.6 1292.4,278.7M1124.6,670.3 1140.6,679.1 1153.9,689.9 1157.8,693.9 1166.3,705.9 1174.5,716.4 1178.5,720.5 1184.5,725.3 1194.5,731.4 1204.5,736 1212.5,738.4 1220.5,739.1 1230.5,737.8 1238.5,734.2 1242.5,731.5 1248.5,726.1 1258.4,715.2 1264.9,703.9 1269.6,689.9 1271.7,679.9 1272.2,668 1271.1,656 1268.6,646 1265.9,640 1263.1,636 1259.2,632 1251.6,626 1245.3,622 1210.5,607.1 1198.5,603.8 1170.5,601.2 1158.6,600.9 1146.6,599.8 1136.6,600.1 1124.6,601.7M1250.5,817.8 1236.5,807.2 1230.5,804.6 1224.5,803 1208.5,801.8 1190.5,803.3 1180.5,803.1 1152.6,800.4 1124.6,795.1M1124.6,330.2 1136.6,327.3 1154.6,320.9 1191.3,302.3 1210.5,295.8 1228.5,292.5 1236.5,292.6 1244.5,293.6 1250.5,295.8 1256.4,299 1261,302.3 1267,308.3 1272.5,316.3 1273.5,318.3 1274.3,322.3 1273.9,330.3 1268.4,358.3 1267.5,366.3 1266.5,388.2 1267.7,402.2 1267.8,410.2 1266.9,426.2 1264.7,438.2 1259.8,450.2 1254.5,458.2 1248.5,463.8 1235.1,474.1 1232.5,476.6 1230,480.1 1228.3,484.1 1226.5,490.6 1225.4,506.1 1224.4,512.1 1221.9,518.1 1217.7,526.1 1212.5,533 1204.8,540.1 1191.7,550.1 1182.5,555.3 1176.5,557.5 1164.6,560.4 1153.5,564.1 1144.6,566.2 1136.6,567.4 1124.6,567.6M1292.4,560.5 1284.4,561.1 1279.6,560.1 1274.4,557.5 1266.4,551.1 1262.7,546.1 1260.9,542.1 1257.4,532.1 1256.3,524.1 1256.9,516.1 1258.3,510.1 1261.3,504.1 1266.3,498.1 1270.4,495.1 1276.4,492.4 1282.4,491 1292.4,490.3M1206.8,376.2 1212.5,375.6 1216.5,377.2 1218.5,379.5 1219.7,382.2 1221.4,390.2 1223,410.2 1222.5,416.1 1220.6,420.2 1215.8,426.2 1212.5,432.2 1208.5,436.6 1200.5,442.8 1192.5,447.2 1186.5,449.2 1178.5,450.1 1170.5,449.6 1164.6,447.8 1158.6,444.4 1152.6,439.1 1146.9,432.2 1141.6,424.2 1138.7,418.2 1136.4,410.2 1134.8,398.2 1134.9,394.2 1136.6,389.8 1137.9,388.2 1140.6,386.4 1144.6,385.2 1150.6,384.6 1166.5,384.5 1178.5,383.4 1190.5,381.2ZM1124.6,514.3 1130.6,515.9 1133.9,518.1 1136.5,522.1 1137,526.1 1136.2,530.1 1132.6,535.4 1129,538.1 1124.6,539.4" fill="none" stroke="#262320" stroke-width="1.65" stroke-linejoin="round"/>
<path d="M1124.6,187.6L1130,195.8L1124.6,203.4" fill="#D9BE4A" stroke="#262320" stroke-width="1.6"/>
<path d="M1180.2,282.5L1161.3,227.7M1159.3,236.5L1161.3,227.7L1168.3,233.4M1204.2,282.5L1182.9,225.2M1181.1,234.1L1182.9,225.2L1190,230.7M1228.2,282.5L1224.3,224.6M1220.1,232.6L1224.3,224.6L1229.6,231.9M1252.2,282.5L1266.9,228M1260.3,234.1L1266.9,228L1269.5,236.6M1276.3,282.5L1299.9,229.6M1292.5,234.6L1299.9,229.6L1301.2,238.5M1276.3,362L1337.9,365.4M1330.6,360.3L1337.9,365.4L1330.1,369.8M1252.2,401.8L1302.3,400.6M1294.5,396L1302.3,400.6L1294.8,405.5M1132.1,560.8L1137,622.8M1141.2,614.8L1137,622.8L1131.7,615.5M1156.1,560.8L1177.4,616.7M1179.1,607.9L1177.4,616.7L1170.2,611.2" fill="none" stroke="#f4f4f4" stroke-opacity=".8" stroke-width="1.3"/><path d="M1132.1,163.2L1157.6,146M1148.6,146.3L1157.6,146L1154,154.2M1132.1,203L1163.7,224.7M1160.1,216.5L1163.7,224.7L1154.7,224.3M1156.1,203L1177.7,223M1175.3,214.3L1177.7,223L1168.9,221.3M1228.2,242.8L1241.8,215.6M1234.1,220.3L1241.8,215.6L1242.6,224.6M1132.1,282.5L1130.2,250.1M1125.9,258L1130.2,250.1L1135.4,257.4M1156.1,282.5L1142.3,238.3M1140.1,247L1142.3,238.3L1149.2,244.2M1132.1,322.2L1116.9,275.3M1114.7,284L1116.9,275.3L1123.8,281.1M1156.1,322.2L1140.4,285.8M1139,294.7L1140.4,285.8L1147.8,290.9M1180.2,322.2L1163.2,292M1162.8,301L1163.2,292L1171.1,296.3M1204.2,322.2L1185.2,291.6M1185.2,300.6L1185.2,291.6L1193.3,295.5M1228.2,322.2L1228.7,282.9M1223.8,290.5L1228.7,282.9L1233.4,290.6M1252.2,322.2L1283.8,300.1M1274.8,300.6L1283.8,300.1L1280.3,308.4M1276.3,322.2L1308.7,324.6M1301.4,319.3L1308.7,324.6L1300.7,328.8M1132.1,362L1134.3,324.8M1129.1,332.2L1134.3,324.8L1138.6,332.8M1156.1,362L1161.4,327.2M1155.5,334L1161.4,327.2L1165,335.4M1252.2,362L1299.6,367.6M1292.6,362L1299.6,367.6L1291.5,371.5M1276.3,401.8L1317.5,400.1M1309.7,395.6L1317.5,400.1L1310.1,405.2M1180.2,441.5L1179.9,470.8M1184.7,463.2L1179.9,470.8L1175.2,463.1M1204.2,441.5L1224.4,469M1223.7,460L1224.4,469L1216,465.6M1228.2,441.5L1257.2,472.1M1255.5,463.3L1257.2,472.1L1248.5,469.8M1252.2,441.5L1288.5,464.4M1284.6,456.3L1288.5,464.4L1279.5,464.4M1276.3,441.5L1310.2,447.5M1303.5,441.5L1310.2,447.5L1301.9,450.8M1204.2,481.2L1237.2,500.4M1233,492.4L1237.2,500.4L1228.2,500.7M1228.2,481.2L1257.3,494.6M1252.4,487.1L1257.3,494.6L1248.4,495.8M1180.2,521L1208.1,536.7M1203.8,528.8L1208.1,536.7L1199.1,537.1M1204.2,521L1230.6,537.3M1226.6,529.3L1230.6,537.3L1221.6,537.4M1276.3,521L1238.2,506.3M1243.6,513.5L1238.2,506.3L1247.1,504.6M1180.2,560.8L1191,605.1M1193.8,596.6L1191,605.1L1184.6,598.8M1204.2,560.8L1208.3,596.8M1212.2,588.7L1208.3,596.8L1202.7,589.7M1228.2,560.8L1232,590.6M1235.8,582.4L1232,590.6L1226.3,583.6M1252.2,560.8L1243.2,591.3M1249.9,585.4L1243.2,591.3L1240.8,582.7M1276.3,560.8L1257.1,603.7M1264.5,598.6L1257.1,603.7L1255.8,594.7M1132.1,600.5L1137,640M1140.8,631.9L1137,640L1131.4,633.1M1156.1,600.5L1152.1,642.2M1157.6,635.1L1152.1,642.2L1148.1,634.1M1180.2,600.5L1175.8,644.6M1181.3,637.5L1175.8,644.6L1171.8,636.6M1204.2,600.5L1196.6,636.4M1202.8,629.9L1196.6,636.4L1193.5,627.9M1228.2,600.5L1219.3,628.3M1226.1,622.5L1219.3,628.3L1217.1,619.6M1228.2,640.2L1206.4,663.3M1215.2,661L1206.4,663.3L1208.2,654.4M1252.2,640.2L1229.9,659M1238.8,657.8L1229.9,659L1232.6,650.5M1132.1,680L1148.3,648.2M1140.6,652.9L1148.3,648.2L1149.1,657.2M1156.1,680L1185,646.8M1176.4,649.4L1185,646.8L1183.6,655.7M1180.2,680L1200.5,657.8M1191.8,660.2L1200.5,657.8L1198.8,666.6M1252.2,680L1219.2,682.1M1227.1,686.4L1219.2,682.1L1226.5,676.9M1276.3,680L1245.2,674.9M1252,680.9L1245.2,674.9L1253.5,671.5M1132.1,719.8L1162.6,740.5M1159,732.3L1162.6,740.5L1153.6,740.2M1180.2,719.8L1206.1,689.9M1197.5,692.5L1206.1,689.9L1204.7,698.8M1204.2,719.8L1217.7,686.3M1210.4,691.6L1217.7,686.3L1219.2,695.2M1228.2,719.8L1208.7,691M1209.1,700L1208.7,691L1217,694.7M1252.2,719.8L1227.6,696.2M1229.8,704.9L1227.6,696.2L1236.4,698M1276.3,719.8L1246.3,697.9M1249.6,706.3L1246.3,697.9L1255.3,698.5M1276.3,759.5L1238.8,749.7M1245,756.2L1238.8,749.7L1247.4,747M1276.3,799.2L1240.1,824.3M1249.1,823.9L1240.1,824.3L1243.7,816.1" fill="none" stroke="#5c5654" stroke-opacity=".7" stroke-width="1.1"/><path d="M1132.1,44L1146.7,35.8M1139.6,35.5L1146.7,35.8L1143.3,41.9M1156.1,44L1161,28.2M1155.8,32.8L1161,28.2L1162.8,34.9M1180.2,44L1184,27.6M1179,32.6L1184,27.6L1186.3,34.3M1204.2,44L1208.3,28.3M1203.4,32.9L1208.3,28.3L1210.4,34.8M1228.2,44L1226.8,28.7M1223.9,34.4L1226.8,28.7L1230.7,33.8M1252.2,44L1242.8,33.2M1243.8,39.1L1242.8,33.2L1248.6,34.9M1276.3,44L1263.7,51.5M1269.9,51.6L1263.7,51.5L1266.5,46M1132.1,83.8L1146.2,85.5M1141.5,81.7L1146.2,85.5L1140.8,88M1156.1,83.8L1146.3,93.3M1151.9,92.1L1146.3,93.3L1147.7,87.7M1180.2,83.8L1186.2,96.6M1186.9,90.7L1186.2,96.6L1181.2,93.4M1204.2,83.8L1215.4,91.7M1213.2,86.4L1215.4,91.7L1209.6,91.4M1228.2,83.8L1215.4,75.9M1218.3,81.6L1215.4,75.9L1221.7,75.9M1252.2,83.8L1258.1,69.1M1252.8,73L1258.1,69.1L1259.3,75.6M1276.3,83.8L1271.9,67.8M1269.9,74.4L1271.9,67.8L1277,72.5M1132.1,123.5L1150.1,132.4M1145.7,125.2L1150.1,132.4L1141.7,133.2M1156.1,123.5L1169.9,144M1169.6,135L1169.9,144L1161.7,140.3M1180.2,123.5L1183.7,147.4M1187.3,139.1L1183.7,147.4L1177.9,140.5M1204.2,123.5L1193.7,144.5M1201.3,139.8L1193.7,144.5L1192.8,135.6M1228.2,123.5L1215.7,139.9M1223.8,136.9L1215.7,139.9L1216.5,131.3M1252.2,123.5L1236.4,133.5M1244.3,133.5L1236.4,133.5L1239.8,126.4M1276.3,123.5L1262.5,131.1M1269.1,131.4L1262.5,131.1L1265.7,125.3M1156.1,163.2L1181.7,160.6M1173.6,156.6L1181.7,160.6L1174.6,166.1M1180.2,163.2L1188.9,150.9M1183,153.3L1188.9,150.9L1188.6,157.2M1204.2,163.2L1186.1,161.5M1192.2,166.2L1186.1,161.5L1192.9,158.1M1228.2,163.2L1208.2,161.7M1215,166.7L1208.2,161.7L1215.7,157.8M1252.2,163.2L1234.1,157.6M1239.3,163.7L1234.1,157.6L1241.8,155.6M1276.3,163.2L1261.9,165.2M1267.5,167.7L1261.9,165.2L1266.6,161.3M1180.2,203L1176,217.3M1180.7,213.1L1176,217.3L1174.3,211.3M1204.2,203L1188,201.1M1193.4,205.4L1188,201.1L1194.2,198.2M1228.2,203L1209.4,196.3M1214.6,202.9L1209.4,196.3L1217.6,194.5M1252.2,203L1245.9,217.9M1251.5,214L1245.9,217.9L1244.9,211.2M1276.3,203L1274.6,221.9M1279.4,215.5L1274.6,221.9L1271,214.8M1132.1,242.8L1126.1,223.5M1124,231.7L1126.1,223.5L1132.6,229M1156.1,242.8L1168.2,224.9M1159.9,228.6L1168.2,224.9L1167.8,233.9M1180.2,242.8L1161.7,240.8M1167.8,245.6L1161.7,240.8L1168.7,237.4M1204.2,242.8L1190.4,217.6M1189.9,226.6L1190.4,217.6L1198.2,222M1252.2,242.8L1242.8,222M1241.6,230.9L1242.8,222L1250.3,227M1276.3,242.8L1288.2,230.5M1281.2,232.2L1288.2,230.5L1286.7,237.5M1180.2,362L1169,336.6M1167.7,345.5L1169,336.6L1176.4,341.7M1204.2,362L1187.8,344.2M1189.5,353L1187.8,344.2L1196.5,346.6M1228.2,362L1250.5,356.7M1242,353.8L1250.5,356.7L1244.2,363.1M1132.1,401.8L1113.8,405.5M1121.2,408.2L1113.8,405.5L1119.5,400.1M1156.1,401.8L1139.6,388.6M1142.6,397L1139.6,388.6L1148.4,389.6M1180.2,401.8L1178.5,377M1174.3,385L1178.5,377L1183.8,384.3M1204.2,401.8L1221.8,390.8M1213.1,390.8L1221.8,390.8L1217.9,398.6M1228.2,401.8L1255.9,400.3M1248,395.9L1255.9,400.3L1248.5,405.5M1132.1,441.5L1116.9,456.8M1125.7,454.8L1116.9,456.8L1118.9,448.1M1156.1,441.5L1139.3,460.8M1147.9,458.2L1139.3,460.8L1140.7,451.9M1132.1,481.2L1116.4,471.7M1119.9,478.6L1116.4,471.7L1124.1,471.6M1156.1,481.2L1154.7,496.5M1158.6,491.4L1154.7,496.5L1151.8,490.7M1180.2,481.2L1198,499.3M1196,490.5L1198,499.3L1189.3,497.2M1252.2,481.2L1265.4,490.2M1262.7,484.1L1265.4,490.2L1258.7,489.9M1276.3,481.2L1275.5,456.3M1271,464.1L1275.5,456.3L1280.5,463.8M1132.1,521L1152,503M1143.1,504.6L1152,503L1149.5,511.6M1156.1,521L1182.8,529.9M1177,522.9L1182.8,529.9L1174,532M1228.2,521L1250.2,534M1246.1,526L1250.2,534L1241.2,534.2M1252.2,521L1223.6,521.6M1231.3,526.2L1223.6,521.6L1231.1,516.6M1252.2,600.5L1247.1,621.6M1253.5,615.4L1247.1,621.6L1244.3,613.1M1276.3,600.5L1279.7,623.3M1283.3,615L1279.7,623.3L1273.9,616.4M1132.1,640.2L1153.7,639M1145.8,634.7L1153.7,639L1146.3,644.2M1156.1,640.2L1175.9,653.4M1172.2,645.2L1175.9,653.4L1166.9,653.2M1180.2,640.2L1183,660.2M1186.4,652.4L1183,660.2L1177.6,653.7M1204.2,640.2L1185.4,660.6M1194,658.2L1185.4,660.6L1187,651.8M1276.3,640.2L1257.4,647.1M1265.7,648.8L1257.4,647.1L1262.6,640.4M1204.2,680L1202.2,662.3M1199,669.1L1202.2,662.3L1206.9,668.2M1228.2,680L1209.8,675.6M1215.4,681.2L1209.8,675.6L1217.3,673M1156.1,719.8L1179.2,709M1170.2,707.9L1179.2,709L1174.3,716.6M1132.1,759.5L1121.7,774.3M1128.7,771.4L1121.7,774.3L1122.1,766.7M1156.1,759.5L1145.8,773.1M1152.5,770.5L1145.8,773.1L1146.5,765.9M1180.2,759.5L1192.1,768.9M1190,762.9L1192.1,768.9L1185.8,768.2M1204.2,759.5L1218,750.1M1211,750.4L1218,750.1L1215.2,756.5M1228.2,759.5L1236.3,742.3M1229.6,746.7L1236.3,742.3L1237.2,750.2M1252.2,759.5L1225.7,754.5M1232.3,760.6L1225.7,754.5L1234.1,751.2M1132.1,799.2L1128.9,818.9M1134.4,812.6L1128.9,818.9L1125.6,811.2M1156.1,799.2L1153.1,821.8M1158.8,814.9L1153.1,821.8L1149.4,813.6M1180.2,799.2L1178.2,823.5M1183.5,816.3L1178.2,823.5L1174,815.5M1204.2,799.2L1206.3,822.8M1210.4,814.8L1206.3,822.8L1200.9,815.6M1228.2,799.2L1223.1,821.4M1229.4,815.1L1223.1,821.4L1220.2,812.9M1252.2,799.2L1236,820M1244.4,817L1236,820L1236.9,811.1" fill="none" stroke="#2e2a27" stroke-opacity=".88" stroke-width="1.15"/>
</g>
<text transform="translate(1206.8,209.8) rotate(-80)" text-anchor="middle" dy=".35em" class="lb" font-size="18" stroke="#8BBE88">-1E-06</text>
<text transform="translate(1205.1,280.9) rotate(-10)" text-anchor="middle" dy=".35em" class="lb" font-size="19" stroke="#CF963C">0</text>
<text transform="translate(1210.6,482) rotate(-50)" text-anchor="middle" dy=".35em" class="lb" font-size="17" stroke="none">1E-06</text>
<text transform="translate(1211.6,501) rotate(-57)" text-anchor="middle" dy=".35em" class="lb" font-size="17" stroke="none">8E-07</text>
<text transform="translate(1212.5,523) rotate(-55)" text-anchor="middle" dy=".35em" class="lb" font-size="17" stroke="none">6E-07</text>
<text transform="translate(1210.2,586.2) rotate(0)" text-anchor="middle" dy=".35em" class="lb" font-size="19" stroke="#CF963C">0</text>
<rect x="1124.6" y="28.6" width="167.8" height="789.2" fill="none" stroke="#4a4644" stroke-width="1.8"/>
<path d="M1124.6,28.6v-9.8M1124.6,817.8v9.8M1180.5,28.6v-9.8M1180.5,817.8v9.8M1236.5,28.6v-9.8M1236.5,817.8v9.8M1292.4,28.6v-9.8M1292.4,817.8v9.8M1124.6,761.4h-10.5M1292.4,761.4h10.5M1124.6,648.7h-10.5M1292.4,648.7h10.5M1124.6,535.9h-10.5M1292.4,535.9h10.5M1124.6,423.2h-10.5M1292.4,423.2h10.5M1124.6,310.5h-10.5M1292.4,310.5h10.5M1124.6,197.7h-10.5M1292.4,197.7h10.5M1124.6,85h-10.5M1292.4,85h10.5" stroke="#4a4644" stroke-width="1.8" fill="none"/>
<text transform="translate(1107.5,773) scale(.95,1)" text-anchor="end" class="tk">2</text>
<text transform="translate(1107.5,660.3) scale(.95,1)" text-anchor="end" class="tk">4</text>
<text transform="translate(1107.5,547.5) scale(.95,1)" text-anchor="end" class="tk">6</text>
<text transform="translate(1107.5,434.8) scale(.95,1)" text-anchor="end" class="tk">8</text>
<text transform="translate(1107.5,322.1) scale(.95,1)" text-anchor="end" class="tk">10</text>
<text transform="translate(1107.5,209.3) scale(.95,1)" text-anchor="end" class="tk">12</text>
<text transform="translate(1107.5,96.6) scale(.95,1)" text-anchor="end" class="tk">14</text>
<text transform="translate(1124,858.4) scale(.95,1)" text-anchor="middle" class="tk">1</text>
<text transform="translate(1179.9,858.4) scale(.95,1)" text-anchor="middle" class="tk">2</text>
<text transform="translate(1235.9,858.4) scale(.95,1)" text-anchor="middle" class="tk">3</text>
<text transform="translate(1291.8,858.4) scale(.95,1)" text-anchor="middle" class="tk">4</text>
<text x="1208.8" y="899.7" text-anchor="middle" class="ti">Line</text>
<text transform="translate(1056.1,423.6) rotate(-90)" text-anchor="middle" class="ti">Row</text>
<text x="1040.2" y="45" class="pl">(c)</text>
<rect x="1367.3" y="670.6" width="33.2" height="29.6" fill="#BEC478"/>
<rect x="1367.3" y="641.3" width="33.2" height="29.6" fill="#8FC090"/>
<rect x="1367.3" y="612.1" width="33.2" height="29.6" fill="#6DB070"/>
<rect x="1367.3" y="582.9" width="33.2" height="29.6" fill="#8CB884"/>
<rect x="1367.3" y="553.7" width="33.2" height="29.6" fill="#BDBB6C"/>
<rect x="1367.3" y="524.4" width="33.2" height="29.6" fill="#E4BB3E"/>
<rect x="1367.3" y="495.2" width="33.2" height="29.6" fill="#E5953C"/>
<rect x="1367.3" y="466" width="33.2" height="29.6" fill="#B8963F"/>
<rect x="1367.3" y="436.8" width="33.2" height="29.6" fill="#D2B67E"/>
<rect x="1367.3" y="407.5" width="33.2" height="29.6" fill="#F2D7A2"/>
<rect x="1367.3" y="378.3" width="33.2" height="29.6" fill="#F8EECC"/>
<rect x="1367.3" y="349.1" width="33.2" height="29.6" fill="#E2EEE4"/>
<rect x="1367.3" y="319.8" width="33.2" height="29.6" fill="#D6EAE8"/>
<rect x="1367.3" y="290.6" width="33.2" height="29.6" fill="#CEE6E8"/>
<rect x="1367.3" y="261.4" width="33.2" height="29.6" fill="#9DD0D0"/>
<rect x="1367.3" y="232.2" width="33.2" height="29.6" fill="#52B2D0"/>
<rect x="1367.3" y="202.9" width="33.2" height="29.6" fill="#4F7BBA"/>
<rect x="1367.3" y="173.7" width="33.2" height="29.6" fill="#4A579C"/>
<path d="M1367.3,670.6h33.2M1367.3,641.3h33.2M1367.3,612.1h33.2M1367.3,582.9h33.2M1367.3,524.4h33.2M1367.3,495.2h33.2M1367.3,466h33.2M1367.3,436.8h33.2M1367.3,378.3h33.2M1367.3,349.1h33.2M1367.3,319.8h33.2M1367.3,290.6h33.2M1367.3,232.2h33.2M1367.3,202.9h33.2" stroke="#b9b9b9" stroke-opacity=".8" stroke-width="1" fill="none"/>
<path d="M1367.3,553.7h33.2M1367.3,407.5h33.2M1367.3,261.4h33.2" stroke="#222" stroke-width="1.5" fill="none"/>
<rect x="1367.3" y="173.7" width="33.2" height="526.1" fill="none" stroke="#3c3a38" stroke-width="1.5"/>
<text x="1464.4" y="708.6" text-anchor="end" class="cl">−14</text>
<text x="1464.4" y="679.5" text-anchor="end" class="cl">−12</text>
<text x="1464.4" y="650.4" text-anchor="end" class="cl">−10</text>
<text x="1464.4" y="621.3" text-anchor="end" class="cl">−8</text>
<text x="1464.4" y="592.2" text-anchor="end" class="cl">−6</text>
<text x="1464.4" y="563.1" text-anchor="end" class="cl">−4</text>
<text x="1464.4" y="534" text-anchor="end" class="cl">−2</text>
<text x="1464.4" y="504.9" text-anchor="end" class="cl">0</text>
<text x="1464.4" y="475.8" text-anchor="end" class="cl">2</text>
<text x="1464.4" y="446.8" text-anchor="end" class="cl">4</text>
<text x="1464.4" y="417.7" text-anchor="end" class="cl">6</text>
<text x="1464.4" y="388.6" text-anchor="end" class="cl">8</text>
<text x="1464.4" y="359.5" text-anchor="end" class="cl">10</text>
<text x="1464.4" y="330.4" text-anchor="end" class="cl">12</text>
<text x="1464.4" y="301.3" text-anchor="end" class="cl">14</text>
<text x="1464.4" y="272.2" text-anchor="end" class="cl">16</text>
<text x="1464.4" y="243.1" text-anchor="end" class="cl">18</text>
<text x="1464.4" y="214" text-anchor="end" class="cl">20</text>
<text x="1464.4" y="184.9" text-anchor="end" class="cl">22</text>
<text transform="translate(1342.1,426.4) rotate(-90)" text-anchor="middle" class="ti" style="font-size:29.2px">Current / 10<tspan dy="-11" font-size="17">−7</tspan><tspan dy="11"> A</tspan></text>
</g>
</svg></body></html>
